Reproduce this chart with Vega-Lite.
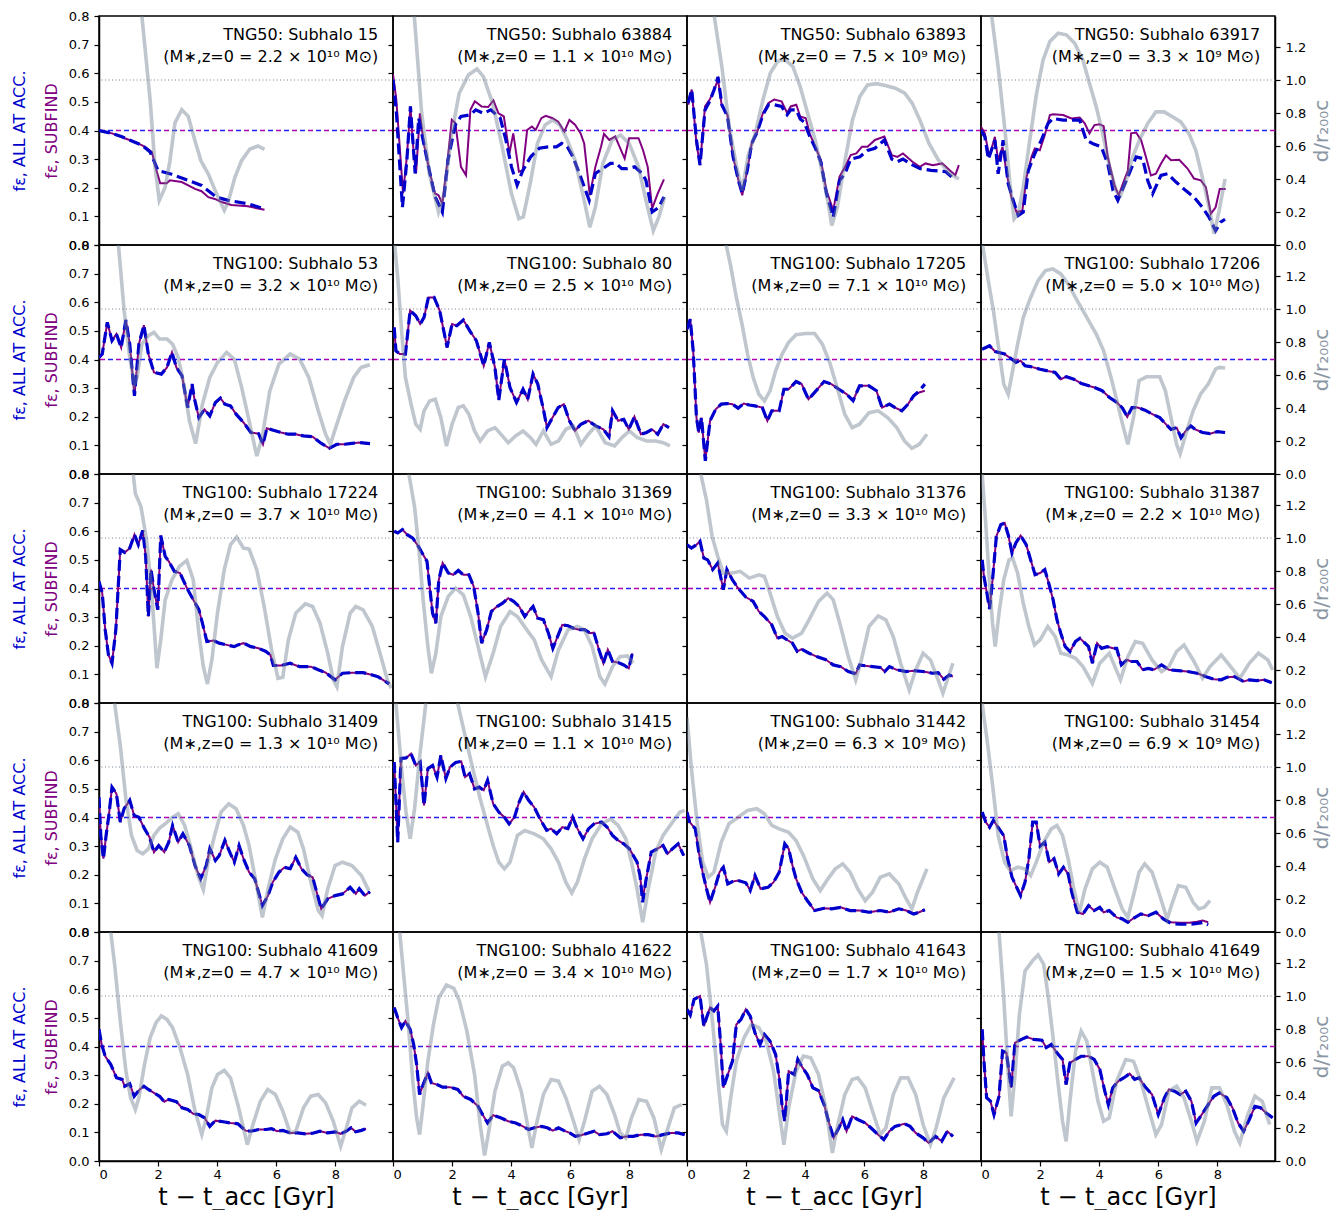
{
"$schema": "https://vega.github.io/schema/vega-lite/v6.json",
"padding": {"left": 10, "top": 9, "right": 5, "bottom": 0},
"datasets": {
"panels": [
{"p":0,"l1":"TNG50: Subhalo 15","l2":"(M∗,z=0 = 2.2 × 10¹⁰ M⊙)"},
{"p":1,"l1":"TNG50: Subhalo 63884","l2":"(M∗,z=0 = 1.1 × 10¹⁰ M⊙)"},
{"p":2,"l1":"TNG50: Subhalo 63893","l2":"(M∗,z=0 = 7.5 × 10⁹ M⊙)"},
{"p":3,"l1":"TNG50: Subhalo 63917","l2":"(M∗,z=0 = 3.3 × 10⁹ M⊙)"},
{"p":4,"l1":"TNG100: Subhalo 53","l2":"(M∗,z=0 = 3.2 × 10¹⁰ M⊙)"},
{"p":5,"l1":"TNG100: Subhalo 80","l2":"(M∗,z=0 = 2.5 × 10¹⁰ M⊙)"},
{"p":6,"l1":"TNG100: Subhalo 17205","l2":"(M∗,z=0 = 7.1 × 10¹⁰ M⊙)"},
{"p":7,"l1":"TNG100: Subhalo 17206","l2":"(M∗,z=0 = 5.0 × 10¹⁰ M⊙)"},
{"p":8,"l1":"TNG100: Subhalo 17224","l2":"(M∗,z=0 = 3.7 × 10¹⁰ M⊙)"},
{"p":9,"l1":"TNG100: Subhalo 31369","l2":"(M∗,z=0 = 4.1 × 10¹⁰ M⊙)"},
{"p":10,"l1":"TNG100: Subhalo 31376","l2":"(M∗,z=0 = 3.3 × 10¹⁰ M⊙)"},
{"p":11,"l1":"TNG100: Subhalo 31387","l2":"(M∗,z=0 = 2.2 × 10¹⁰ M⊙)"},
{"p":12,"l1":"TNG100: Subhalo 31409","l2":"(M∗,z=0 = 1.3 × 10¹⁰ M⊙)"},
{"p":13,"l1":"TNG100: Subhalo 31415","l2":"(M∗,z=0 = 1.1 × 10¹⁰ M⊙)"},
{"p":14,"l1":"TNG100: Subhalo 31442","l2":"(M∗,z=0 = 6.3 × 10⁹ M⊙)"},
{"p":15,"l1":"TNG100: Subhalo 31454","l2":"(M∗,z=0 = 6.9 × 10⁹ M⊙)"},
{"p":16,"l1":"TNG100: Subhalo 41609","l2":"(M∗,z=0 = 4.7 × 10¹⁰ M⊙)"},
{"p":17,"l1":"TNG100: Subhalo 41622","l2":"(M∗,z=0 = 3.4 × 10¹⁰ M⊙)"},
{"p":18,"l1":"TNG100: Subhalo 41643","l2":"(M∗,z=0 = 1.7 × 10¹⁰ M⊙)"},
{"p":19,"l1":"TNG100: Subhalo 41649","l2":"(M∗,z=0 = 1.5 × 10¹⁰ M⊙)"}
],
"d": [
{"p":0,"t":0,"m":0.4},{"p":0,"t":0.44,"m":0.39},{"p":0,"t":0.89,"m":0.372},{"p":0,"t":1.22,"m":0.36},{"p":0,"t":1.56,"m":0.343},{"p":0,"t":1.79,"m":0.325},{"p":0,"t":1.92,"m":0.27},{"p":0,"t":2.07,"m":0.216},{"p":0,"t":2.29,"m":0.216},{"p":0,"t":2.4,"m":0.226},{"p":0,"t":2.8,"m":0.22},{"p":0,"t":3.25,"m":0.196},{"p":0,"t":3.47,"m":0.188},{"p":0,"t":3.7,"m":0.167},{"p":0,"t":3.92,"m":0.161},{"p":0,"t":4.15,"m":0.15},{"p":0,"t":4.48,"m":0.14},{"p":0,"t":5.04,"m":0.135},{"p":0,"t":5.6,"m":0.123},
{"p":0,"t":0,"b":0.4},{"p":0,"t":0.44,"b":0.39},{"p":0,"t":0.78,"b":0.378},{"p":0,"t":1.45,"b":0.349},{"p":0,"t":1.73,"b":0.325},{"p":0,"t":2.0,"b":0.26},{"p":0,"t":2.46,"b":0.247},{"p":0,"t":3.02,"b":0.226},{"p":0,"t":3.47,"b":0.208},{"p":0,"t":3.98,"b":0.167},{"p":0,"t":4.37,"b":0.156},{"p":0,"t":5.04,"b":0.144},{"p":0,"t":5.6,"b":0.126},
{"p":0,"t":0,"g":4.0},{"p":0,"t":1.45,"g":1.39},{"p":0,"t":1.73,"g":0.88},{"p":0,"t":1.9,"g":0.47},{"p":0,"t":2.04,"g":0.27},{"p":0,"t":2.24,"g":0.35},{"p":0,"t":2.4,"g":0.51},{"p":0,"t":2.57,"g":0.74},{"p":0,"t":2.8,"g":0.82},{"p":0,"t":3.02,"g":0.78},{"p":0,"t":3.25,"g":0.63},{"p":0,"t":3.45,"g":0.51},{"p":0,"t":3.7,"g":0.43},{"p":0,"t":3.98,"g":0.31},{"p":0,"t":4.24,"g":0.21},{"p":0,"t":4.37,"g":0.26},{"p":0,"t":4.6,"g":0.41},{"p":0,"t":4.82,"g":0.51},{"p":0,"t":5.1,"g":0.58},{"p":0,"t":5.38,"g":0.6},{"p":0,"t":5.6,"g":0.58},
{"p":1,"t":0,"m":0.596},{"p":1,"t":0.11,"m":0.51},{"p":1,"t":0.21,"m":0.367},{"p":1,"t":0.34,"m":0.18},{"p":1,"t":0.47,"m":0.31},{"p":1,"t":0.59,"m":0.484},{"p":1,"t":0.7,"m":0.32},{"p":1,"t":0.78,"m":0.25},{"p":1,"t":0.91,"m":0.46},{"p":1,"t":1.04,"m":0.355},{"p":1,"t":1.23,"m":0.26},{"p":1,"t":1.42,"m":0.18},{"p":1,"t":1.54,"m":0.174},{"p":1,"t":1.67,"m":0.144},{"p":1,"t":1.86,"m":0.308},{"p":1,"t":1.99,"m":0.437},{"p":1,"t":2.11,"m":0.426},{"p":1,"t":2.3,"m":0.273},{"p":1,"t":2.47,"m":0.244},{"p":1,"t":2.62,"m":0.472},{"p":1,"t":2.77,"m":0.502},{"p":1,"t":3.0,"m":0.484},{"p":1,"t":3.22,"m":0.482},{"p":1,"t":3.4,"m":0.505},{"p":1,"t":3.57,"m":0.46},{"p":1,"t":3.75,"m":0.449},{"p":1,"t":3.94,"m":0.32},{"p":1,"t":4.07,"m":0.39},{"p":1,"t":4.26,"m":0.256},{"p":1,"t":4.39,"m":0.26},{"p":1,"t":4.54,"m":0.402},{"p":1,"t":4.7,"m":0.414},{"p":1,"t":4.83,"m":0.402},{"p":1,"t":5.02,"m":0.443},{"p":1,"t":5.17,"m":0.451},{"p":1,"t":5.4,"m":0.443},{"p":1,"t":5.59,"m":0.431},{"p":1,"t":5.8,"m":0.396},{"p":1,"t":5.97,"m":0.437},{"p":1,"t":6.16,"m":0.42},{"p":1,"t":6.35,"m":0.39},{"p":1,"t":6.47,"m":0.355},{"p":1,"t":6.66,"m":0.174},{"p":1,"t":6.85,"m":0.273},{"p":1,"t":7.04,"m":0.343},{"p":1,"t":7.14,"m":0.388},{"p":1,"t":7.32,"m":0.367},{"p":1,"t":7.52,"m":0.379},{"p":1,"t":7.67,"m":0.343},{"p":1,"t":7.84,"m":0.302},{"p":1,"t":7.99,"m":0.373},{"p":1,"t":8.31,"m":0.373},{"p":1,"t":8.46,"m":0.332},{"p":1,"t":8.62,"m":0.273},{"p":1,"t":8.77,"m":0.127},{"p":1,"t":8.96,"m":0.18},{"p":1,"t":9.17,"m":0.229},
{"p":1,"t":0,"b":0.578},{"p":1,"t":0.11,"b":0.47},{"p":1,"t":0.32,"b":0.132},{"p":1,"t":0.47,"b":0.297},{"p":1,"t":0.59,"b":0.484},{"p":1,"t":0.75,"b":0.25},{"p":1,"t":0.87,"b":0.443},{"p":1,"t":1.04,"b":0.355},{"p":1,"t":1.23,"b":0.26},{"p":1,"t":1.42,"b":0.17},{"p":1,"t":1.67,"b":0.115},{"p":1,"t":1.86,"b":0.297},{"p":1,"t":2.11,"b":0.42},{"p":1,"t":2.3,"b":0.449},{"p":1,"t":2.62,"b":0.455},{"p":1,"t":2.8,"b":0.472},{"p":1,"t":3.06,"b":0.46},{"p":1,"t":3.31,"b":0.472},{"p":1,"t":3.63,"b":0.443},{"p":1,"t":3.82,"b":0.367},{"p":1,"t":4.01,"b":0.273},{"p":1,"t":4.2,"b":0.209},{"p":1,"t":4.39,"b":0.26},{"p":1,"t":4.66,"b":0.308},{"p":1,"t":4.95,"b":0.338},{"p":1,"t":5.25,"b":0.343},{"p":1,"t":5.53,"b":0.343},{"p":1,"t":5.71,"b":0.355},{"p":1,"t":5.9,"b":0.343},{"p":1,"t":6.09,"b":0.308},{"p":1,"t":6.35,"b":0.238},{"p":1,"t":6.64,"b":0.156},{"p":1,"t":6.85,"b":0.25},{"p":1,"t":7.1,"b":0.267},{"p":1,"t":7.36,"b":0.285},{"p":1,"t":7.55,"b":0.285},{"p":1,"t":7.74,"b":0.267},{"p":1,"t":7.93,"b":0.267},{"p":1,"t":8.18,"b":0.273},{"p":1,"t":8.43,"b":0.25},{"p":1,"t":8.56,"b":0.226},{"p":1,"t":8.77,"b":0.115},{"p":1,"t":9.0,"b":0.132},{"p":1,"t":9.17,"b":0.168},
{"p":1,"t":0,"g":3.1},{"p":1,"t":0.72,"g":1.39},{"p":1,"t":0.97,"g":0.8},{"p":1,"t":1.23,"g":0.433},{"p":1,"t":1.54,"g":0.2},{"p":1,"t":1.73,"g":0.31},{"p":1,"t":1.99,"g":0.68},{"p":1,"t":2.24,"g":0.92},{"p":1,"t":2.55,"g":1.03},{"p":1,"t":2.84,"g":1.067},{"p":1,"t":3.06,"g":1.02},{"p":1,"t":3.37,"g":0.86},{"p":1,"t":3.69,"g":0.6},{"p":1,"t":4.01,"g":0.31},{"p":1,"t":4.26,"g":0.16},{"p":1,"t":4.41,"g":0.17},{"p":1,"t":4.64,"g":0.37},{"p":1,"t":4.89,"g":0.616},{"p":1,"t":5.15,"g":0.728},{"p":1,"t":5.4,"g":0.758},{"p":1,"t":5.65,"g":0.728},{"p":1,"t":5.9,"g":0.636},{"p":1,"t":6.16,"g":0.514},{"p":1,"t":6.47,"g":0.27},{"p":1,"t":6.66,"g":0.108},{"p":1,"t":6.85,"g":0.23},{"p":1,"t":7.1,"g":0.494},{"p":1,"t":7.42,"g":0.636},{"p":1,"t":7.7,"g":0.667},{"p":1,"t":7.99,"g":0.616},{"p":1,"t":8.31,"g":0.474},{"p":1,"t":8.56,"g":0.27},{"p":1,"t":8.81,"g":0.087},{"p":1,"t":9.0,"g":0.17},{"p":1,"t":9.19,"g":0.29},
{"p":2,"t":0.04,"m":0.49},{"p":2,"t":0.16,"m":0.543},{"p":2,"t":0.32,"m":0.355},{"p":2,"t":0.44,"m":0.279},{"p":2,"t":0.61,"m":0.484},{"p":2,"t":0.77,"m":0.508},{"p":2,"t":0.92,"m":0.543},{"p":2,"t":1.05,"m":0.578},{"p":2,"t":1.18,"m":0.484},{"p":2,"t":1.37,"m":0.455},{"p":2,"t":1.56,"m":0.308},{"p":2,"t":1.74,"m":0.226},{"p":2,"t":1.87,"m":0.174},{"p":2,"t":2.04,"m":0.261},{"p":2,"t":2.19,"m":0.355},{"p":2,"t":2.38,"m":0.396},{"p":2,"t":2.57,"m":0.461},{"p":2,"t":2.76,"m":0.496},{"p":2,"t":2.95,"m":0.508},{"p":2,"t":3.2,"m":0.502},{"p":2,"t":3.39,"m":0.461},{"p":2,"t":3.51,"m":0.484},{"p":2,"t":3.7,"m":0.49},{"p":2,"t":3.83,"m":0.449},{"p":2,"t":4.02,"m":0.443},{"p":2,"t":4.15,"m":0.39},{"p":2,"t":4.34,"m":0.343},{"p":2,"t":4.53,"m":0.297},{"p":2,"t":4.72,"m":0.19},{"p":2,"t":4.95,"m":0.121},{"p":2,"t":5.16,"m":0.238},{"p":2,"t":5.35,"m":0.273},{"p":2,"t":5.54,"m":0.314},{"p":2,"t":5.73,"m":0.32},{"p":2,"t":5.92,"m":0.343},{"p":2,"t":6.11,"m":0.343},{"p":2,"t":6.36,"m":0.367},{"p":2,"t":6.68,"m":0.379},{"p":2,"t":6.93,"m":0.314},{"p":2,"t":7.12,"m":0.308},{"p":2,"t":7.31,"m":0.32},{"p":2,"t":7.63,"m":0.291},{"p":2,"t":7.88,"m":0.273},{"p":2,"t":8.07,"m":0.285},{"p":2,"t":8.32,"m":0.279},{"p":2,"t":8.64,"m":0.285},{"p":2,"t":8.89,"m":0.261},{"p":2,"t":9.08,"m":0.244},{"p":2,"t":9.2,"m":0.279},
{"p":2,"t":0.04,"b":0.496},{"p":2,"t":0.16,"b":0.543},{"p":2,"t":0.32,"b":0.367},{"p":2,"t":0.44,"b":0.279},{"p":2,"t":0.61,"b":0.472},{"p":2,"t":0.77,"b":0.502},{"p":2,"t":0.92,"b":0.543},{"p":2,"t":1.05,"b":0.587},{"p":2,"t":1.18,"b":0.49},{"p":2,"t":1.37,"b":0.449},{"p":2,"t":1.56,"b":0.308},{"p":2,"t":1.74,"b":0.226},{"p":2,"t":1.87,"b":0.18},{"p":2,"t":2.04,"b":0.261},{"p":2,"t":2.19,"b":0.355},{"p":2,"t":2.38,"b":0.396},{"p":2,"t":2.57,"b":0.455},{"p":2,"t":2.76,"b":0.49},{"p":2,"t":2.95,"b":0.49},{"p":2,"t":3.2,"b":0.484},{"p":2,"t":3.39,"b":0.455},{"p":2,"t":3.51,"b":0.472},{"p":2,"t":3.7,"b":0.472},{"p":2,"t":3.83,"b":0.44},{"p":2,"t":3.96,"b":0.43},{"p":2,"t":4.15,"b":0.38},{"p":2,"t":4.34,"b":0.34},{"p":2,"t":4.53,"b":0.29},{"p":2,"t":4.72,"b":0.18},{"p":2,"t":4.95,"b":0.097},{"p":2,"t":5.16,"b":0.225},{"p":2,"t":5.35,"b":0.25},{"p":2,"t":5.54,"b":0.3},{"p":2,"t":5.85,"b":0.308},{"p":2,"t":6.11,"b":0.33},{"p":2,"t":6.36,"b":0.338},{"p":2,"t":6.68,"b":0.367},{"p":2,"t":6.93,"b":0.3},{"p":2,"t":7.12,"b":0.291},{"p":2,"t":7.31,"b":0.3},{"p":2,"t":7.63,"b":0.28},{"p":2,"t":7.88,"b":0.267},{"p":2,"t":8.26,"b":0.261},{"p":2,"t":8.76,"b":0.256},{"p":2,"t":9.08,"b":0.226},
{"p":2,"t":0,"g":2.5},{"p":2,"t":0.92,"g":1.39},{"p":2,"t":1.18,"g":1.08},{"p":2,"t":1.43,"g":0.717},{"p":2,"t":1.68,"g":0.474},{"p":2,"t":1.87,"g":0.33},{"p":2,"t":2.06,"g":0.535},{"p":2,"t":2.31,"g":0.677},{"p":2,"t":2.57,"g":0.88},{"p":2,"t":2.82,"g":1.043},{"p":2,"t":3.07,"g":1.114},{"p":2,"t":3.32,"g":1.124},{"p":2,"t":3.58,"g":1.083},{"p":2,"t":3.83,"g":0.961},{"p":2,"t":4.08,"g":0.8},{"p":2,"t":4.34,"g":0.636},{"p":2,"t":4.59,"g":0.433},{"p":2,"t":4.78,"g":0.25},{"p":2,"t":4.9,"g":0.118},{"p":2,"t":5.09,"g":0.23},{"p":2,"t":5.35,"g":0.514},{"p":2,"t":5.6,"g":0.758},{"p":2,"t":5.85,"g":0.9},{"p":2,"t":6.11,"g":0.97},{"p":2,"t":6.42,"g":0.978},{"p":2,"t":6.74,"g":0.965},{"p":2,"t":7.05,"g":0.95},{"p":2,"t":7.37,"g":0.92},{"p":2,"t":7.62,"g":0.86},{"p":2,"t":7.88,"g":0.758},{"p":2,"t":8.19,"g":0.616},{"p":2,"t":8.51,"g":0.514},{"p":2,"t":8.89,"g":0.433},{"p":2,"t":9.2,"g":0.4},
{"p":3,"t":0,"m":0.413},{"p":3,"t":0.13,"m":0.39},{"p":3,"t":0.28,"m":0.308},{"p":3,"t":0.47,"m":0.378},{"p":3,"t":0.58,"m":0.296},{"p":3,"t":0.73,"m":0.343},{"p":3,"t":0.87,"m":0.25},{"p":3,"t":1.03,"m":0.167},{"p":3,"t":1.2,"m":0.115},{"p":3,"t":1.4,"m":0.12},{"p":3,"t":1.54,"m":0.237},{"p":3,"t":1.71,"m":0.308},{"p":3,"t":1.82,"m":0.337},{"p":3,"t":1.99,"m":0.331},{"p":3,"t":2.16,"m":0.384},{"p":3,"t":2.33,"m":0.454},{"p":3,"t":2.44,"m":0.457},{"p":3,"t":2.78,"m":0.454},{"p":3,"t":3.06,"m":0.442},{"p":3,"t":3.34,"m":0.445},{"p":3,"t":3.51,"m":0.425},{"p":3,"t":3.67,"m":0.39},{"p":3,"t":3.84,"m":0.419},{"p":3,"t":4.01,"m":0.422},{"p":3,"t":4.15,"m":0.415},{"p":3,"t":4.29,"m":0.308},{"p":3,"t":4.52,"m":0.208},{"p":3,"t":4.66,"m":0.173},{"p":3,"t":4.8,"m":0.214},{"p":3,"t":4.97,"m":0.26},{"p":3,"t":5.08,"m":0.39},{"p":3,"t":5.25,"m":0.393},{"p":3,"t":5.42,"m":0.366},{"p":3,"t":5.58,"m":0.308},{"p":3,"t":5.75,"m":0.243},{"p":3,"t":5.92,"m":0.249},{"p":3,"t":6.09,"m":0.284},{"p":3,"t":6.26,"m":0.313},{"p":3,"t":6.43,"m":0.296},{"p":3,"t":6.71,"m":0.298},{"p":3,"t":6.99,"m":0.267},{"p":3,"t":7.21,"m":0.232},{"p":3,"t":7.44,"m":0.226},{"p":3,"t":7.61,"m":0.202},{"p":3,"t":7.78,"m":0.109},{"p":3,"t":7.94,"m":0.132},{"p":3,"t":8.08,"m":0.196},{"p":3,"t":8.28,"m":0.196},
{"p":3,"t":0,"b":0.401},{"p":3,"t":0.13,"b":0.378},{"p":3,"t":0.25,"b":0.3},{"p":3,"t":0.47,"b":0.366},{"p":3,"t":0.58,"b":0.249},{"p":3,"t":0.75,"b":0.366},{"p":3,"t":0.92,"b":0.214},{"p":3,"t":1.09,"b":0.156},{"p":3,"t":1.26,"b":0.103},{"p":3,"t":1.43,"b":0.115},{"p":3,"t":1.6,"b":0.26},{"p":3,"t":1.82,"b":0.319},{"p":3,"t":2.04,"b":0.366},{"p":3,"t":2.27,"b":0.425},{"p":3,"t":2.44,"b":0.442},{"p":3,"t":2.78,"b":0.436},{"p":3,"t":3.11,"b":0.436},{"p":3,"t":3.34,"b":0.436},{"p":3,"t":3.56,"b":0.366},{"p":3,"t":3.79,"b":0.354},{"p":3,"t":4.07,"b":0.343},{"p":3,"t":4.29,"b":0.284},{"p":3,"t":4.47,"b":0.19},{"p":3,"t":4.63,"b":0.156},{"p":3,"t":4.92,"b":0.226},{"p":3,"t":5.25,"b":0.308},{"p":3,"t":5.47,"b":0.302},{"p":3,"t":5.64,"b":0.226},{"p":3,"t":5.81,"b":0.179},{"p":3,"t":6.09,"b":0.243},{"p":3,"t":6.32,"b":0.249},{"p":3,"t":6.6,"b":0.22},{"p":3,"t":6.93,"b":0.19},{"p":3,"t":7.21,"b":0.167},{"p":3,"t":7.49,"b":0.132},{"p":3,"t":7.72,"b":0.097},{"p":3,"t":7.94,"b":0.05},{"p":3,"t":8.11,"b":0.08},{"p":3,"t":8.26,"b":0.09},
{"p":3,"t":0,"g":1.9},{"p":3,"t":0.36,"g":1.39},{"p":3,"t":0.58,"g":1.08},{"p":3,"t":0.81,"g":0.696},{"p":3,"t":0.98,"g":0.371},{"p":3,"t":1.12,"g":0.158},{"p":3,"t":1.26,"g":0.19},{"p":3,"t":1.43,"g":0.35},{"p":3,"t":1.65,"g":0.635},{"p":3,"t":1.88,"g":0.919},{"p":3,"t":2.1,"g":1.12},{"p":3,"t":2.33,"g":1.233},{"p":3,"t":2.61,"g":1.284},{"p":3,"t":2.89,"g":1.274},{"p":3,"t":3.17,"g":1.223},{"p":3,"t":3.45,"g":1.12},{"p":3,"t":3.67,"g":0.98},{"p":3,"t":3.9,"g":0.838},{"p":3,"t":4.12,"g":0.675},{"p":3,"t":4.35,"g":0.473},{"p":3,"t":4.57,"g":0.33},{"p":3,"t":4.72,"g":0.3},{"p":3,"t":4.91,"g":0.39},{"p":3,"t":5.13,"g":0.533},{"p":3,"t":5.36,"g":0.635},{"p":3,"t":5.64,"g":0.736},{"p":3,"t":5.92,"g":0.807},{"p":3,"t":6.2,"g":0.807},{"p":3,"t":6.48,"g":0.777},{"p":3,"t":6.76,"g":0.746},{"p":3,"t":7.04,"g":0.675},{"p":3,"t":7.27,"g":0.574},{"p":3,"t":7.49,"g":0.412},{"p":3,"t":7.72,"g":0.229},{"p":3,"t":7.89,"g":0.067},{"p":3,"t":8.06,"g":0.209},{"p":3,"t":8.26,"g":0.4},
{"p":4,"t":0,"m":0.407,"b":0.407},{"p":4,"t":0.11,"m":0.419,"b":0.419},{"p":4,"t":0.28,"m":0.53,"b":0.53},{"p":4,"t":0.44,"m":0.466,"b":0.466},{"p":4,"t":0.59,"m":0.489,"b":0.489},{"p":4,"t":0.75,"m":0.442,"b":0.442},{"p":4,"t":0.91,"m":0.538,"b":0.538},{"p":4,"t":1.04,"m":0.454,"b":0.454},{"p":4,"t":1.2,"m":0.273,"b":0.273},{"p":4,"t":1.35,"m":0.454,"b":0.454},{"p":4,"t":1.52,"m":0.52,"b":0.52},{"p":4,"t":1.67,"m":0.419,"b":0.419},{"p":4,"t":1.86,"m":0.355,"b":0.355},{"p":4,"t":2.11,"m":0.349,"b":0.349},{"p":4,"t":2.3,"m":0.372,"b":0.372},{"p":4,"t":2.47,"m":0.425,"b":0.425},{"p":4,"t":2.62,"m":0.372,"b":0.372},{"p":4,"t":2.81,"m":0.343,"b":0.343},{"p":4,"t":3.0,"m":0.232,"b":0.232},{"p":4,"t":3.15,"m":0.314,"b":0.314},{"p":4,"t":3.22,"m":0.267,"b":0.267},{"p":4,"t":3.38,"m":0.197,"b":0.197},{"p":4,"t":3.57,"m":0.226,"b":0.226},{"p":4,"t":3.75,"m":0.203,"b":0.203},{"p":4,"t":3.94,"m":0.25,"b":0.25},{"p":4,"t":4.11,"m":0.265,"b":0.265},{"p":4,"t":4.26,"m":0.244,"b":0.244},{"p":4,"t":4.45,"m":0.238,"b":0.238},{"p":4,"t":4.64,"m":0.209,"b":0.209},{"p":4,"t":4.89,"m":0.18,"b":0.18},{"p":4,"t":5.14,"m":0.145,"b":0.145},{"p":4,"t":5.4,"m":0.141,"b":0.141},{"p":4,"t":5.55,"m":0.104,"b":0.104},{"p":4,"t":5.68,"m":0.16,"b":0.16},{"p":4,"t":5.9,"m":0.153,"b":0.153},{"p":4,"t":6.16,"m":0.145,"b":0.145},{"p":4,"t":6.41,"m":0.139,"b":0.139},{"p":4,"t":6.66,"m":0.139,"b":0.139},{"p":4,"t":6.92,"m":0.133,"b":0.133},{"p":4,"t":7.23,"m":0.13,"b":0.13},{"p":4,"t":7.48,"m":0.11,"b":0.11},{"p":4,"t":7.8,"m":0.09,"b":0.09},{"p":4,"t":8.05,"m":0.104,"b":0.104},{"p":4,"t":8.31,"m":0.104,"b":0.104},{"p":4,"t":8.56,"m":0.107,"b":0.107},{"p":4,"t":8.81,"m":0.11,"b":0.11},{"p":4,"t":9.17,"m":0.106,"b":0.106},
{"p":4,"t":0,"g":2.8},{"p":4,"t":0.66,"g":1.385},{"p":4,"t":0.85,"g":0.99},{"p":4,"t":1.04,"g":0.706},{"p":4,"t":1.2,"g":0.545},{"p":4,"t":1.29,"g":0.585},{"p":4,"t":1.45,"g":0.787},{"p":4,"t":1.67,"g":0.838},{"p":4,"t":1.86,"g":0.858},{"p":4,"t":2.05,"g":0.818},{"p":4,"t":2.3,"g":0.818},{"p":4,"t":2.49,"g":0.787},{"p":4,"t":2.68,"g":0.706},{"p":4,"t":2.87,"g":0.545},{"p":4,"t":3.06,"g":0.322},{"p":4,"t":3.27,"g":0.184},{"p":4,"t":3.5,"g":0.423},{"p":4,"t":3.75,"g":0.585},{"p":4,"t":4.01,"g":0.676},{"p":4,"t":4.32,"g":0.737},{"p":4,"t":4.58,"g":0.696},{"p":4,"t":4.83,"g":0.524},{"p":4,"t":5.08,"g":0.322},{"p":4,"t":5.34,"g":0.109},{"p":4,"t":5.52,"g":0.22},{"p":4,"t":5.78,"g":0.504},{"p":4,"t":6.09,"g":0.666},{"p":4,"t":6.47,"g":0.727},{"p":4,"t":6.79,"g":0.696},{"p":4,"t":7.1,"g":0.585},{"p":4,"t":7.42,"g":0.383},{"p":4,"t":7.67,"g":0.241},{"p":4,"t":7.83,"g":0.18},{"p":4,"t":8.05,"g":0.302},{"p":4,"t":8.31,"g":0.443},{"p":4,"t":8.62,"g":0.585},{"p":4,"t":8.87,"g":0.646},{"p":4,"t":9.17,"g":0.662},
{"p":5,"t":0.04,"m":0.512,"b":0.512},{"p":5,"t":0.1,"m":0.43,"b":0.43},{"p":5,"t":0.23,"m":0.419,"b":0.419},{"p":5,"t":0.42,"m":0.419,"b":0.419},{"p":5,"t":0.58,"m":0.571,"b":0.571},{"p":5,"t":0.77,"m":0.553,"b":0.553},{"p":5,"t":0.92,"m":0.524,"b":0.524},{"p":5,"t":1.05,"m":0.547,"b":0.547},{"p":5,"t":1.2,"m":0.617,"b":0.617},{"p":5,"t":1.39,"m":0.617,"b":0.617},{"p":5,"t":1.58,"m":0.571,"b":0.571},{"p":5,"t":1.83,"m":0.442,"b":0.442},{"p":5,"t":2.0,"m":0.524,"b":0.524},{"p":5,"t":2.16,"m":0.518,"b":0.518},{"p":5,"t":2.38,"m":0.538,"b":0.538},{"p":5,"t":2.63,"m":0.495,"b":0.495},{"p":5,"t":2.82,"m":0.466,"b":0.466},{"p":5,"t":3.07,"m":0.378,"b":0.378},{"p":5,"t":3.26,"m":0.46,"b":0.46},{"p":5,"t":3.45,"m":0.372,"b":0.372},{"p":5,"t":3.58,"m":0.258,"b":0.258},{"p":5,"t":3.77,"m":0.401,"b":0.401},{"p":5,"t":3.96,"m":0.302,"b":0.302},{"p":5,"t":4.18,"m":0.25,"b":0.25},{"p":5,"t":4.4,"m":0.296,"b":0.296},{"p":5,"t":4.56,"m":0.261,"b":0.261},{"p":5,"t":4.74,"m":0.349,"b":0.349},{"p":5,"t":4.9,"m":0.314,"b":0.314},{"p":5,"t":5.09,"m":0.226,"b":0.226},{"p":5,"t":5.21,"m":0.162,"b":0.162},{"p":5,"t":5.4,"m":0.197,"b":0.197},{"p":5,"t":5.59,"m":0.232,"b":0.232},{"p":5,"t":5.78,"m":0.244,"b":0.244},{"p":5,"t":5.97,"m":0.186,"b":0.186},{"p":5,"t":6.16,"m":0.151,"b":0.151},{"p":5,"t":6.36,"m":0.174,"b":0.174},{"p":5,"t":6.61,"m":0.186,"b":0.186},{"p":5,"t":6.86,"m":0.168,"b":0.168},{"p":5,"t":7.12,"m":0.156,"b":0.156},{"p":5,"t":7.31,"m":0.13,"b":0.13},{"p":5,"t":7.43,"m":0.221,"b":0.221},{"p":5,"t":7.62,"m":0.186,"b":0.186},{"p":5,"t":7.81,"m":0.191,"b":0.191},{"p":5,"t":7.98,"m":0.156,"b":0.156},{"p":5,"t":8.17,"m":0.2,"b":0.2},{"p":5,"t":8.39,"m":0.139,"b":0.139},{"p":5,"t":8.58,"m":0.145,"b":0.145},{"p":5,"t":8.77,"m":0.156,"b":0.156},{"p":5,"t":8.96,"m":0.139,"b":0.139},{"p":5,"t":9.15,"m":0.174,"b":0.174},{"p":5,"t":9.34,"m":0.162,"b":0.162},
{"p":5,"t":0,"g":1.5},{"p":5,"t":0.16,"g":1.19},{"p":5,"t":0.29,"g":0.87},{"p":5,"t":0.42,"g":0.585},{"p":5,"t":0.61,"g":0.423},{"p":5,"t":0.77,"g":0.302},{"p":5,"t":0.92,"g":0.271},{"p":5,"t":1.05,"g":0.383},{"p":5,"t":1.24,"g":0.443},{"p":5,"t":1.43,"g":0.453},{"p":5,"t":1.62,"g":0.342},{"p":5,"t":1.81,"g":0.17},{"p":5,"t":2.0,"g":0.302},{"p":5,"t":2.21,"g":0.403},{"p":5,"t":2.38,"g":0.413},{"p":5,"t":2.57,"g":0.362},{"p":5,"t":2.76,"g":0.261},{"p":5,"t":2.95,"g":0.2},{"p":5,"t":3.2,"g":0.261},{"p":5,"t":3.45,"g":0.281},{"p":5,"t":3.7,"g":0.231},{"p":5,"t":3.9,"g":0.19},{"p":5,"t":4.15,"g":0.231},{"p":5,"t":4.4,"g":0.261},{"p":5,"t":4.65,"g":0.221},{"p":5,"t":4.84,"g":0.18},{"p":5,"t":5.09,"g":0.261},{"p":5,"t":5.35,"g":0.18},{"p":5,"t":5.6,"g":0.2},{"p":5,"t":5.85,"g":0.271},{"p":5,"t":6.1,"g":0.291},{"p":5,"t":6.36,"g":0.18},{"p":5,"t":6.61,"g":0.241},{"p":5,"t":6.86,"g":0.291},{"p":5,"t":7.18,"g":0.19},{"p":5,"t":7.5,"g":0.17},{"p":5,"t":7.75,"g":0.221},{"p":5,"t":8.0,"g":0.261},{"p":5,"t":8.26,"g":0.221},{"p":5,"t":8.58,"g":0.2},{"p":5,"t":8.89,"g":0.2},{"p":5,"t":9.15,"g":0.19},{"p":5,"t":9.37,"g":0.17},
{"p":6,"t":0,"m":0.506,"b":0.506},{"p":6,"t":0.11,"m":0.541,"b":0.541},{"p":6,"t":0.21,"m":0.43,"b":0.43},{"p":6,"t":0.32,"m":0.197,"b":0.197},{"p":6,"t":0.4,"m":0.145,"b":0.145},{"p":6,"t":0.49,"m":0.197,"b":0.197},{"p":6,"t":0.62,"m":0.046,"b":0.046},{"p":6,"t":0.78,"m":0.186,"b":0.186},{"p":6,"t":0.97,"m":0.226,"b":0.226},{"p":6,"t":1.16,"m":0.244,"b":0.244},{"p":6,"t":1.35,"m":0.246,"b":0.246},{"p":6,"t":1.54,"m":0.244,"b":0.244},{"p":6,"t":1.73,"m":0.23,"b":0.23},{"p":6,"t":1.92,"m":0.246,"b":0.246},{"p":6,"t":2.11,"m":0.241,"b":0.241},{"p":6,"t":2.3,"m":0.238,"b":0.238},{"p":6,"t":2.55,"m":0.232,"b":0.232},{"p":6,"t":2.72,"m":0.186,"b":0.186},{"p":6,"t":2.87,"m":0.221,"b":0.221},{"p":6,"t":3.12,"m":0.221,"b":0.221},{"p":6,"t":3.28,"m":0.296,"b":0.296},{"p":6,"t":3.44,"m":0.296,"b":0.296},{"p":6,"t":3.69,"m":0.323,"b":0.323},{"p":6,"t":3.88,"m":0.314,"b":0.314},{"p":6,"t":4.11,"m":0.261,"b":0.261},{"p":6,"t":4.32,"m":0.285,"b":0.285},{"p":6,"t":4.64,"m":0.323,"b":0.323},{"p":6,"t":4.89,"m":0.314,"b":0.314},{"p":6,"t":5.14,"m":0.296,"b":0.296},{"p":6,"t":5.4,"m":0.279,"b":0.279},{"p":6,"t":5.62,"m":0.256,"b":0.256},{"p":6,"t":5.84,"m":0.308,"b":0.308},{"p":6,"t":6.16,"m":0.308,"b":0.308},{"p":6,"t":6.41,"m":0.291,"b":0.291},{"p":6,"t":6.6,"m":0.232,"b":0.232},{"p":6,"t":6.85,"m":0.244,"b":0.244},{"p":6,"t":7.04,"m":0.232,"b":0.232},{"p":6,"t":7.27,"m":0.221,"b":0.221},{"p":6,"t":7.48,"m":0.244,"b":0.244},{"p":6,"t":7.67,"m":0.273,"b":0.273},{"p":6,"t":7.86,"m":0.285,"b":0.29},{"p":6,"t":8.05,"m":0.291,"b":0.314},
{"p":6,"t":0,"g":2.6},{"p":6,"t":1.33,"g":1.385},{"p":6,"t":1.48,"g":1.26},{"p":6,"t":1.67,"g":1.07},{"p":6,"t":1.86,"g":0.91},{"p":6,"t":2.05,"g":0.727},{"p":6,"t":2.24,"g":0.585},{"p":6,"t":2.43,"g":0.484},{"p":6,"t":2.62,"g":0.443},{"p":6,"t":2.81,"g":0.504},{"p":6,"t":3.0,"g":0.625},{"p":6,"t":3.22,"g":0.727},{"p":6,"t":3.44,"g":0.798},{"p":6,"t":3.69,"g":0.844},{"p":6,"t":4.01,"g":0.852},{"p":6,"t":4.32,"g":0.852},{"p":6,"t":4.58,"g":0.787},{"p":6,"t":4.83,"g":0.676},{"p":6,"t":5.08,"g":0.524},{"p":6,"t":5.34,"g":0.362},{"p":6,"t":5.59,"g":0.281},{"p":6,"t":5.84,"g":0.302},{"p":6,"t":6.16,"g":0.372},{"p":6,"t":6.47,"g":0.383},{"p":6,"t":6.79,"g":0.342},{"p":6,"t":7.1,"g":0.281},{"p":6,"t":7.36,"g":0.2},{"p":6,"t":7.61,"g":0.156},{"p":6,"t":7.86,"g":0.18},{"p":6,"t":8.12,"g":0.241},
{"p":7,"t":0.04,"m":0.436,"b":0.436},{"p":7,"t":0.29,"m":0.448,"b":0.448},{"p":7,"t":0.48,"m":0.428,"b":0.428},{"p":7,"t":0.8,"m":0.419,"b":0.419},{"p":7,"t":1.05,"m":0.401,"b":0.401},{"p":7,"t":1.18,"m":0.39,"b":0.39},{"p":7,"t":1.34,"m":0.396,"b":0.396},{"p":7,"t":1.49,"m":0.378,"b":0.378},{"p":7,"t":1.68,"m":0.375,"b":0.375},{"p":7,"t":2.0,"m":0.366,"b":0.366},{"p":7,"t":2.26,"m":0.36,"b":0.36},{"p":7,"t":2.51,"m":0.355,"b":0.355},{"p":7,"t":2.7,"m":0.331,"b":0.331},{"p":7,"t":2.89,"m":0.34,"b":0.34},{"p":7,"t":3.14,"m":0.331,"b":0.331},{"p":7,"t":3.4,"m":0.316,"b":0.316},{"p":7,"t":3.65,"m":0.308,"b":0.308},{"p":7,"t":3.84,"m":0.302,"b":0.302},{"p":7,"t":4.1,"m":0.291,"b":0.291},{"p":7,"t":4.35,"m":0.267,"b":0.267},{"p":7,"t":4.6,"m":0.25,"b":0.25},{"p":7,"t":4.79,"m":0.23,"b":0.23},{"p":7,"t":4.95,"m":0.2,"b":0.2},{"p":7,"t":5.11,"m":0.232,"b":0.232},{"p":7,"t":5.3,"m":0.232,"b":0.232},{"p":7,"t":5.55,"m":0.223,"b":0.223},{"p":7,"t":5.8,"m":0.209,"b":0.209},{"p":7,"t":6.05,"m":0.197,"b":0.197},{"p":7,"t":6.24,"m":0.176,"b":0.176},{"p":7,"t":6.43,"m":0.156,"b":0.156},{"p":7,"t":6.62,"m":0.162,"b":0.162},{"p":7,"t":6.77,"m":0.127,"b":0.127},{"p":7,"t":6.93,"m":0.151,"b":0.151},{"p":7,"t":7.1,"m":0.168,"b":0.168},{"p":7,"t":7.25,"m":0.156,"b":0.156},{"p":7,"t":7.5,"m":0.145,"b":0.145},{"p":7,"t":7.75,"m":0.141,"b":0.141},{"p":7,"t":8.0,"m":0.148,"b":0.148},{"p":7,"t":8.26,"m":0.145,"b":0.145},
{"p":7,"t":0,"g":1.45},{"p":7,"t":0.23,"g":1.19},{"p":7,"t":0.42,"g":0.99},{"p":7,"t":0.61,"g":0.747},{"p":7,"t":0.77,"g":0.545},{"p":7,"t":0.92,"g":0.484},{"p":7,"t":1.07,"g":0.625},{"p":7,"t":1.24,"g":0.787},{"p":7,"t":1.43,"g":0.949},{"p":7,"t":1.68,"g":1.07},{"p":7,"t":1.93,"g":1.172},{"p":7,"t":2.18,"g":1.233},{"p":7,"t":2.43,"g":1.243},{"p":7,"t":2.7,"g":1.213},{"p":7,"t":2.95,"g":1.152},{"p":7,"t":3.26,"g":1.05},{"p":7,"t":3.58,"g":0.949},{"p":7,"t":3.9,"g":0.848},{"p":7,"t":4.15,"g":0.747},{"p":7,"t":4.4,"g":0.585},{"p":7,"t":4.6,"g":0.443},{"p":7,"t":4.79,"g":0.302},{"p":7,"t":4.97,"g":0.18},{"p":7,"t":5.16,"g":0.342},{"p":7,"t":5.35,"g":0.565},{"p":7,"t":5.6,"g":0.589},{"p":7,"t":6.05,"g":0.589},{"p":7,"t":6.24,"g":0.504},{"p":7,"t":6.43,"g":0.342},{"p":7,"t":6.62,"g":0.18},{"p":7,"t":6.74,"g":0.123},{"p":7,"t":6.93,"g":0.241},{"p":7,"t":7.18,"g":0.383},{"p":7,"t":7.43,"g":0.484},{"p":7,"t":7.69,"g":0.545},{"p":7,"t":7.94,"g":0.636},{"p":7,"t":8.07,"g":0.646},{"p":7,"t":8.26,"g":0.642},
{"p":8,"t":0,"m":0.425,"b":0.425},{"p":8,"t":0.11,"m":0.384,"b":0.384},{"p":8,"t":0.21,"m":0.256,"b":0.256},{"p":8,"t":0.32,"m":0.168,"b":0.168},{"p":8,"t":0.44,"m":0.139,"b":0.139},{"p":8,"t":0.57,"m":0.256,"b":0.256},{"p":8,"t":0.72,"m":0.536,"b":0.536},{"p":8,"t":0.87,"m":0.526,"b":0.526},{"p":8,"t":1.04,"m":0.541,"b":0.541},{"p":8,"t":1.2,"m":0.588,"b":0.588},{"p":8,"t":1.33,"m":0.553,"b":0.553},{"p":8,"t":1.48,"m":0.603,"b":0.603},{"p":8,"t":1.58,"m":0.512,"b":0.512},{"p":8,"t":1.67,"m":0.302,"b":0.302},{"p":8,"t":1.76,"m":0.466,"b":0.466},{"p":8,"t":1.86,"m":0.396,"b":0.396},{"p":8,"t":1.99,"m":0.326,"b":0.326},{"p":8,"t":2.09,"m":0.585,"b":0.585},{"p":8,"t":2.24,"m":0.512,"b":0.512},{"p":8,"t":2.36,"m":0.495,"b":0.495},{"p":8,"t":2.55,"m":0.46,"b":0.46},{"p":8,"t":2.74,"m":0.454,"b":0.454},{"p":8,"t":3.0,"m":0.396,"b":0.396},{"p":8,"t":3.19,"m":0.361,"b":0.361},{"p":8,"t":3.38,"m":0.326,"b":0.326},{"p":8,"t":3.5,"m":0.279,"b":0.279},{"p":8,"t":3.65,"m":0.215,"b":0.215},{"p":8,"t":3.88,"m":0.218,"b":0.218},{"p":8,"t":4.07,"m":0.209,"b":0.209},{"p":8,"t":4.32,"m":0.203,"b":0.203},{"p":8,"t":4.58,"m":0.197,"b":0.197},{"p":8,"t":4.7,"m":0.203,"b":0.203},{"p":8,"t":4.89,"m":0.209,"b":0.209},{"p":8,"t":5.14,"m":0.197,"b":0.197},{"p":8,"t":5.4,"m":0.191,"b":0.191},{"p":8,"t":5.65,"m":0.18,"b":0.18},{"p":8,"t":5.8,"m":0.168,"b":0.168},{"p":8,"t":5.9,"m":0.131,"b":0.131},{"p":8,"t":6.16,"m":0.131,"b":0.131},{"p":8,"t":6.47,"m":0.139,"b":0.139},{"p":8,"t":6.79,"m":0.127,"b":0.127},{"p":8,"t":7.17,"m":0.127,"b":0.127},{"p":8,"t":7.42,"m":0.116,"b":0.116},{"p":8,"t":7.67,"m":0.106,"b":0.106},{"p":8,"t":7.99,"m":0.081,"b":0.081},{"p":8,"t":8.24,"m":0.104,"b":0.104},{"p":8,"t":8.56,"m":0.106,"b":0.106},{"p":8,"t":8.94,"m":0.106,"b":0.106},{"p":8,"t":9.25,"m":0.098,"b":0.098},{"p":8,"t":9.44,"m":0.092,"b":0.092},{"p":8,"t":9.82,"m":0.067,"b":0.067},
{"p":8,"t":0,"g":3.2},{"p":8,"t":1.16,"g":1.385},{"p":8,"t":1.23,"g":1.27},{"p":8,"t":1.42,"g":1.19},{"p":8,"t":1.61,"g":0.99},{"p":8,"t":1.76,"g":0.727},{"p":8,"t":1.88,"g":0.423},{"p":8,"t":1.96,"g":0.211},{"p":8,"t":2.09,"g":0.383},{"p":8,"t":2.24,"g":0.625},{"p":8,"t":2.47,"g":0.747},{"p":8,"t":2.72,"g":0.828},{"p":8,"t":2.97,"g":0.864},{"p":8,"t":3.19,"g":0.747},{"p":8,"t":3.38,"g":0.423},{"p":8,"t":3.53,"g":0.221},{"p":8,"t":3.67,"g":0.115},{"p":8,"t":3.82,"g":0.261},{"p":8,"t":4.01,"g":0.545},{"p":8,"t":4.24,"g":0.808},{"p":8,"t":4.45,"g":0.96},{"p":8,"t":4.66,"g":1.006},{"p":8,"t":4.89,"g":0.939},{"p":8,"t":5.08,"g":0.933},{"p":8,"t":5.34,"g":0.808},{"p":8,"t":5.59,"g":0.585},{"p":8,"t":5.84,"g":0.322},{"p":8,"t":6.06,"g":0.15},{"p":8,"t":6.22,"g":0.156},{"p":8,"t":6.41,"g":0.383},{"p":8,"t":6.66,"g":0.545},{"p":8,"t":6.98,"g":0.601},{"p":8,"t":7.23,"g":0.585},{"p":8,"t":7.48,"g":0.484},{"p":8,"t":7.74,"g":0.302},{"p":8,"t":7.93,"g":0.14},{"p":8,"t":8.05,"g":0.099},{"p":8,"t":8.24,"g":0.342},{"p":8,"t":8.5,"g":0.545},{"p":8,"t":8.69,"g":0.585},{"p":8,"t":8.94,"g":0.565},{"p":8,"t":9.25,"g":0.464},{"p":8,"t":9.51,"g":0.302},{"p":8,"t":9.76,"g":0.14},{"p":8,"t":9.89,"g":0.089},
{"p":9,"t":0.04,"m":0.6,"b":0.6},{"p":9,"t":0.16,"m":0.594,"b":0.594},{"p":9,"t":0.32,"m":0.606,"b":0.606},{"p":9,"t":0.48,"m":0.588,"b":0.588},{"p":9,"t":0.67,"m":0.576,"b":0.576},{"p":9,"t":0.86,"m":0.547,"b":0.547},{"p":9,"t":1.02,"m":0.518,"b":0.518},{"p":9,"t":1.15,"m":0.495,"b":0.495},{"p":9,"t":1.24,"m":0.407,"b":0.407},{"p":9,"t":1.34,"m":0.314,"b":0.314},{"p":9,"t":1.45,"m":0.279,"b":0.279},{"p":9,"t":1.55,"m":0.43,"b":0.43},{"p":9,"t":1.68,"m":0.489,"b":0.489},{"p":9,"t":1.87,"m":0.454,"b":0.454},{"p":9,"t":2.04,"m":0.448,"b":0.448},{"p":9,"t":2.21,"m":0.463,"b":0.463},{"p":9,"t":2.38,"m":0.448,"b":0.448},{"p":9,"t":2.57,"m":0.448,"b":0.448},{"p":9,"t":2.73,"m":0.407,"b":0.407},{"p":9,"t":2.88,"m":0.314,"b":0.314},{"p":9,"t":3.0,"m":0.209,"b":0.209},{"p":9,"t":3.17,"m":0.256,"b":0.256},{"p":9,"t":3.33,"m":0.32,"b":0.32},{"p":9,"t":3.52,"m":0.337,"b":0.337},{"p":9,"t":3.71,"m":0.349,"b":0.349},{"p":9,"t":3.9,"m":0.366,"b":0.366},{"p":9,"t":4.08,"m":0.355,"b":0.355},{"p":9,"t":4.27,"m":0.337,"b":0.337},{"p":9,"t":4.46,"m":0.302,"b":0.302},{"p":9,"t":4.59,"m":0.32,"b":0.32},{"p":9,"t":4.74,"m":0.337,"b":0.337},{"p":9,"t":4.9,"m":0.296,"b":0.296},{"p":9,"t":5.09,"m":0.291,"b":0.291},{"p":9,"t":5.26,"m":0.244,"b":0.244},{"p":9,"t":5.41,"m":0.191,"b":0.191},{"p":9,"t":5.57,"m":0.232,"b":0.232},{"p":9,"t":5.73,"m":0.273,"b":0.273},{"p":9,"t":5.92,"m":0.27,"b":0.27},{"p":9,"t":6.11,"m":0.261,"b":0.261},{"p":9,"t":6.3,"m":0.256,"b":0.256},{"p":9,"t":6.48,"m":0.256,"b":0.256},{"p":9,"t":6.67,"m":0.244,"b":0.244},{"p":9,"t":6.8,"m":0.246,"b":0.246},{"p":9,"t":6.97,"m":0.186,"b":0.186},{"p":9,"t":7.12,"m":0.139,"b":0.139},{"p":9,"t":7.27,"m":0.186,"b":0.186},{"p":9,"t":7.43,"m":0.145,"b":0.145},{"p":9,"t":7.62,"m":0.141,"b":0.141},{"p":9,"t":7.81,"m":0.133,"b":0.133},{"p":9,"t":7.98,"m":0.121,"b":0.121},{"p":9,"t":8.1,"m":0.174,"b":0.174},
{"p":9,"t":0,"g":2.5},{"p":9,"t":0.54,"g":1.385},{"p":9,"t":0.73,"g":1.19},{"p":9,"t":0.9,"g":0.889},{"p":9,"t":1.02,"g":0.625},{"p":9,"t":1.18,"g":0.342},{"p":9,"t":1.3,"g":0.18},{"p":9,"t":1.45,"g":0.302},{"p":9,"t":1.62,"g":0.524},{"p":9,"t":1.87,"g":0.646},{"p":9,"t":2.12,"g":0.696},{"p":9,"t":2.38,"g":0.656},{"p":9,"t":2.63,"g":0.524},{"p":9,"t":2.88,"g":0.342},{"p":9,"t":3.13,"g":0.16},{"p":9,"t":3.39,"g":0.302},{"p":9,"t":3.64,"g":0.464},{"p":9,"t":3.96,"g":0.555},{"p":9,"t":4.21,"g":0.524},{"p":9,"t":4.53,"g":0.443},{"p":9,"t":4.78,"g":0.383},{"p":9,"t":5.03,"g":0.261},{"p":9,"t":5.35,"g":0.16},{"p":9,"t":5.6,"g":0.322},{"p":9,"t":5.92,"g":0.443},{"p":9,"t":6.24,"g":0.464},{"p":9,"t":6.48,"g":0.443},{"p":9,"t":6.74,"g":0.342},{"p":9,"t":7.0,"g":0.16},{"p":9,"t":7.17,"g":0.115},{"p":9,"t":7.43,"g":0.221},{"p":9,"t":7.68,"g":0.281},{"p":9,"t":7.93,"g":0.285},{"p":9,"t":8.13,"g":0.241},
{"p":10,"t":0,"m":0.553,"b":0.553},{"p":10,"t":0.15,"m":0.541,"b":0.541},{"p":10,"t":0.32,"m":0.553,"b":0.553},{"p":10,"t":0.44,"m":0.565,"b":0.565},{"p":10,"t":0.57,"m":0.506,"b":0.506},{"p":10,"t":0.7,"m":0.5,"b":0.5},{"p":10,"t":0.87,"m":0.466,"b":0.466},{"p":10,"t":1.04,"m":0.489,"b":0.489},{"p":10,"t":1.23,"m":0.396,"b":0.396},{"p":10,"t":1.35,"m":0.466,"b":0.466},{"p":10,"t":1.54,"m":0.43,"b":0.43},{"p":10,"t":1.73,"m":0.401,"b":0.401},{"p":10,"t":1.99,"m":0.37,"b":0.37},{"p":10,"t":2.24,"m":0.355,"b":0.355},{"p":10,"t":2.43,"m":0.32,"b":0.32},{"p":10,"t":2.62,"m":0.302,"b":0.302},{"p":10,"t":2.87,"m":0.273,"b":0.273},{"p":10,"t":3.06,"m":0.226,"b":0.226},{"p":10,"t":3.22,"m":0.232,"b":0.232},{"p":10,"t":3.38,"m":0.221,"b":0.221},{"p":10,"t":3.57,"m":0.209,"b":0.209},{"p":10,"t":3.73,"m":0.18,"b":0.18},{"p":10,"t":3.88,"m":0.188,"b":0.188},{"p":10,"t":4.13,"m":0.174,"b":0.174},{"p":10,"t":4.39,"m":0.162,"b":0.162},{"p":10,"t":4.7,"m":0.151,"b":0.151},{"p":10,"t":4.95,"m":0.133,"b":0.133},{"p":10,"t":5.2,"m":0.127,"b":0.127},{"p":10,"t":5.46,"m":0.11,"b":0.11},{"p":10,"t":5.71,"m":0.102,"b":0.102},{"p":10,"t":5.84,"m":0.133,"b":0.133},{"p":10,"t":6.03,"m":0.13,"b":0.13},{"p":10,"t":6.28,"m":0.127,"b":0.127},{"p":10,"t":6.54,"m":0.124,"b":0.124},{"p":10,"t":6.69,"m":0.11,"b":0.11},{"p":10,"t":6.85,"m":0.127,"b":0.127},{"p":10,"t":7.1,"m":0.116,"b":0.116},{"p":10,"t":7.42,"m":0.11,"b":0.11},{"p":10,"t":7.67,"m":0.113,"b":0.113},{"p":10,"t":7.99,"m":0.11,"b":0.11},{"p":10,"t":8.31,"m":0.104,"b":0.104},{"p":10,"t":8.5,"m":0.106,"b":0.106},{"p":10,"t":8.69,"m":0.083,"b":0.083},{"p":10,"t":8.88,"m":0.098,"b":0.098},{"p":10,"t":9.0,"m":0.092,"b":0.092},
{"p":10,"t":0,"g":2.0},{"p":10,"t":0.47,"g":1.385},{"p":10,"t":0.66,"g":1.23},{"p":10,"t":0.85,"g":1.01},{"p":10,"t":1.04,"g":0.889},{"p":10,"t":1.23,"g":0.787},{"p":10,"t":1.48,"g":0.787},{"p":10,"t":1.8,"g":0.798},{"p":10,"t":2.11,"g":0.757},{"p":10,"t":2.43,"g":0.777},{"p":10,"t":2.62,"g":0.767},{"p":10,"t":2.81,"g":0.666},{"p":10,"t":3.06,"g":0.524},{"p":10,"t":3.32,"g":0.423},{"p":10,"t":3.57,"g":0.393},{"p":10,"t":3.88,"g":0.423},{"p":10,"t":4.13,"g":0.504},{"p":10,"t":4.45,"g":0.615},{"p":10,"t":4.74,"g":0.666},{"p":10,"t":4.95,"g":0.625},{"p":10,"t":5.2,"g":0.464},{"p":10,"t":5.46,"g":0.281},{"p":10,"t":5.71,"g":0.14},{"p":10,"t":5.9,"g":0.261},{"p":10,"t":6.16,"g":0.464},{"p":10,"t":6.47,"g":0.528},{"p":10,"t":6.73,"g":0.504},{"p":10,"t":6.98,"g":0.403},{"p":10,"t":7.23,"g":0.241},{"p":10,"t":7.52,"g":0.079},{"p":10,"t":7.74,"g":0.2},{"p":10,"t":7.99,"g":0.302},{"p":10,"t":8.24,"g":0.261},{"p":10,"t":8.5,"g":0.14},{"p":10,"t":8.66,"g":0.059},{"p":10,"t":8.81,"g":0.14},{"p":10,"t":9.0,"g":0.241},
{"p":11,"t":0.04,"m":0.5,"b":0.5},{"p":11,"t":0.1,"m":0.442,"b":0.442},{"p":11,"t":0.2,"m":0.384,"b":0.384},{"p":11,"t":0.29,"m":0.328,"b":0.328},{"p":11,"t":0.39,"m":0.43,"b":0.43},{"p":11,"t":0.52,"m":0.582,"b":0.582},{"p":11,"t":0.67,"m":0.623,"b":0.623},{"p":11,"t":0.8,"m":0.629,"b":0.629},{"p":11,"t":0.92,"m":0.588,"b":0.588},{"p":11,"t":1.05,"m":0.524,"b":0.524},{"p":11,"t":1.18,"m":0.559,"b":0.559},{"p":11,"t":1.34,"m":0.585,"b":0.585},{"p":11,"t":1.53,"m":0.553,"b":0.553},{"p":11,"t":1.68,"m":0.5,"b":0.5},{"p":11,"t":1.83,"m":0.448,"b":0.448},{"p":11,"t":2.0,"m":0.454,"b":0.454},{"p":11,"t":2.16,"m":0.466,"b":0.466},{"p":11,"t":2.29,"m":0.419,"b":0.419},{"p":11,"t":2.44,"m":0.361,"b":0.361},{"p":11,"t":2.57,"m":0.291,"b":0.291},{"p":11,"t":2.7,"m":0.244,"b":0.244},{"p":11,"t":2.85,"m":0.197,"b":0.197},{"p":11,"t":3.01,"m":0.18,"b":0.18},{"p":11,"t":3.2,"m":0.215,"b":0.215},{"p":11,"t":3.35,"m":0.226,"b":0.226},{"p":11,"t":3.52,"m":0.209,"b":0.209},{"p":11,"t":3.64,"m":0.197,"b":0.197},{"p":11,"t":3.77,"m":0.139,"b":0.139},{"p":11,"t":3.93,"m":0.209,"b":0.209},{"p":11,"t":4.08,"m":0.191,"b":0.191},{"p":11,"t":4.27,"m":0.197,"b":0.197},{"p":11,"t":4.46,"m":0.191,"b":0.191},{"p":11,"t":4.59,"m":0.191,"b":0.191},{"p":11,"t":4.75,"m":0.133,"b":0.133},{"p":11,"t":4.94,"m":0.151,"b":0.151},{"p":11,"t":5.09,"m":0.145,"b":0.145},{"p":11,"t":5.28,"m":0.145,"b":0.145},{"p":11,"t":5.47,"m":0.116,"b":0.116},{"p":11,"t":5.66,"m":0.121,"b":0.121},{"p":11,"t":5.85,"m":0.116,"b":0.116},{"p":11,"t":6.11,"m":0.133,"b":0.133},{"p":11,"t":6.36,"m":0.116,"b":0.116},{"p":11,"t":6.68,"m":0.113,"b":0.113},{"p":11,"t":6.99,"m":0.11,"b":0.11},{"p":11,"t":7.31,"m":0.104,"b":0.104},{"p":11,"t":7.62,"m":0.092,"b":0.092},{"p":11,"t":7.88,"m":0.083,"b":0.083},{"p":11,"t":8.13,"m":0.081,"b":0.081},{"p":11,"t":8.32,"m":0.09,"b":0.09},{"p":11,"t":8.58,"m":0.092,"b":0.092},{"p":11,"t":8.89,"m":0.075,"b":0.075},{"p":11,"t":9.08,"m":0.081,"b":0.081},{"p":11,"t":9.33,"m":0.078,"b":0.078},{"p":11,"t":9.58,"m":0.081,"b":0.081},{"p":11,"t":9.84,"m":0.071,"b":0.071},
{"p":11,"t":0,"g":1.48},{"p":11,"t":0.16,"g":1.09},{"p":11,"t":0.29,"g":0.727},{"p":11,"t":0.39,"g":0.484},{"p":11,"t":0.48,"g":0.342},{"p":11,"t":0.61,"g":0.545},{"p":11,"t":0.77,"g":0.747},{"p":11,"t":0.95,"g":0.868},{"p":11,"t":1.07,"g":0.878},{"p":11,"t":1.24,"g":0.787},{"p":11,"t":1.43,"g":0.605},{"p":11,"t":1.62,"g":0.464},{"p":11,"t":1.81,"g":0.352},{"p":11,"t":2.0,"g":0.383},{"p":11,"t":2.26,"g":0.464},{"p":11,"t":2.51,"g":0.403},{"p":11,"t":2.7,"g":0.302},{"p":11,"t":2.95,"g":0.291},{"p":11,"t":3.2,"g":0.271},{"p":11,"t":3.45,"g":0.221},{"p":11,"t":3.77,"g":0.119},{"p":11,"t":4.02,"g":0.241},{"p":11,"t":4.34,"g":0.302},{"p":11,"t":4.72,"g":0.14},{"p":11,"t":4.97,"g":0.281},{"p":11,"t":5.22,"g":0.372},{"p":11,"t":5.47,"g":0.362},{"p":11,"t":5.79,"g":0.261},{"p":11,"t":6.11,"g":0.19},{"p":11,"t":6.36,"g":0.221},{"p":11,"t":6.62,"g":0.312},{"p":11,"t":6.87,"g":0.352},{"p":11,"t":7.18,"g":0.261},{"p":11,"t":7.5,"g":0.15},{"p":11,"t":7.75,"g":0.221},{"p":11,"t":8.13,"g":0.291},{"p":11,"t":8.45,"g":0.221},{"p":11,"t":8.76,"g":0.15},{"p":11,"t":9.08,"g":0.241},{"p":11,"t":9.39,"g":0.302},{"p":11,"t":9.71,"g":0.261},{"p":11,"t":9.87,"g":0.2},
{"p":12,"t":0,"m":0.471,"b":0.471},{"p":12,"t":0.06,"m":0.337,"b":0.337},{"p":12,"t":0.15,"m":0.256,"b":0.256},{"p":12,"t":0.24,"m":0.337,"b":0.337},{"p":12,"t":0.34,"m":0.413,"b":0.413},{"p":12,"t":0.44,"m":0.506,"b":0.506},{"p":12,"t":0.59,"m":0.483,"b":0.483},{"p":12,"t":0.72,"m":0.384,"b":0.384},{"p":12,"t":0.85,"m":0.431,"b":0.431},{"p":12,"t":1.04,"m":0.46,"b":0.46},{"p":12,"t":1.19,"m":0.407,"b":0.407},{"p":12,"t":1.35,"m":0.401,"b":0.401},{"p":12,"t":1.54,"m":0.361,"b":0.361},{"p":12,"t":1.71,"m":0.331,"b":0.331},{"p":12,"t":1.86,"m":0.279,"b":0.279},{"p":12,"t":2.02,"m":0.302,"b":0.302},{"p":12,"t":2.21,"m":0.279,"b":0.279},{"p":12,"t":2.36,"m":0.314,"b":0.314},{"p":12,"t":2.49,"m":0.372,"b":0.372},{"p":12,"t":2.68,"m":0.314,"b":0.314},{"p":12,"t":2.84,"m":0.343,"b":0.343},{"p":12,"t":3.06,"m":0.302,"b":0.302},{"p":12,"t":3.25,"m":0.232,"b":0.232},{"p":12,"t":3.44,"m":0.186,"b":0.186},{"p":12,"t":3.63,"m":0.232,"b":0.232},{"p":12,"t":3.75,"m":0.291,"b":0.291},{"p":12,"t":3.94,"m":0.25,"b":0.25},{"p":12,"t":4.07,"m":0.267,"b":0.267},{"p":12,"t":4.26,"m":0.32,"b":0.32},{"p":12,"t":4.45,"m":0.273,"b":0.273},{"p":12,"t":4.58,"m":0.244,"b":0.244},{"p":12,"t":4.74,"m":0.302,"b":0.302},{"p":12,"t":4.89,"m":0.256,"b":0.256},{"p":12,"t":5.08,"m":0.209,"b":0.209},{"p":12,"t":5.27,"m":0.186,"b":0.186},{"p":12,"t":5.53,"m":0.092,"b":0.092},{"p":12,"t":5.72,"m":0.127,"b":0.127},{"p":12,"t":5.88,"m":0.174,"b":0.174},{"p":12,"t":6.09,"m":0.209,"b":0.209},{"p":12,"t":6.28,"m":0.226,"b":0.226},{"p":12,"t":6.47,"m":0.221,"b":0.221},{"p":12,"t":6.66,"m":0.261,"b":0.261},{"p":12,"t":6.85,"m":0.221,"b":0.221},{"p":12,"t":7.04,"m":0.2,"b":0.2},{"p":12,"t":7.23,"m":0.191,"b":0.191},{"p":12,"t":7.52,"m":0.081,"b":0.081},{"p":12,"t":7.74,"m":0.116,"b":0.116},{"p":12,"t":7.99,"m":0.127,"b":0.127},{"p":12,"t":8.24,"m":0.133,"b":0.133},{"p":12,"t":8.5,"m":0.156,"b":0.156},{"p":12,"t":8.69,"m":0.133,"b":0.133},{"p":12,"t":8.81,"m":0.151,"b":0.151},{"p":12,"t":9.0,"m":0.127,"b":0.127},{"p":12,"t":9.17,"m":0.141,"b":0.141},
{"p":12,"t":0,"g":2.1},{"p":12,"t":0.53,"g":1.385},{"p":12,"t":0.72,"g":1.13},{"p":12,"t":0.91,"g":0.808},{"p":12,"t":1.1,"g":0.585},{"p":12,"t":1.29,"g":0.494},{"p":12,"t":1.48,"g":0.474},{"p":12,"t":1.67,"g":0.504},{"p":12,"t":1.86,"g":0.585},{"p":12,"t":2.05,"g":0.63},{"p":12,"t":2.24,"g":0.656},{"p":12,"t":2.49,"g":0.696},{"p":12,"t":2.68,"g":0.717},{"p":12,"t":2.9,"g":0.646},{"p":12,"t":3.12,"g":0.504},{"p":12,"t":3.35,"g":0.342},{"p":12,"t":3.53,"g":0.257},{"p":12,"t":3.69,"g":0.423},{"p":12,"t":3.91,"g":0.585},{"p":12,"t":4.13,"g":0.727},{"p":12,"t":4.39,"g":0.777},{"p":12,"t":4.64,"g":0.747},{"p":12,"t":4.89,"g":0.646},{"p":12,"t":5.08,"g":0.524},{"p":12,"t":5.27,"g":0.342},{"p":12,"t":5.53,"g":0.089},{"p":12,"t":5.72,"g":0.261},{"p":12,"t":5.97,"g":0.443},{"p":12,"t":6.22,"g":0.565},{"p":12,"t":6.47,"g":0.636},{"p":12,"t":6.73,"g":0.605},{"p":12,"t":6.92,"g":0.504},{"p":12,"t":7.17,"g":0.302},{"p":12,"t":7.42,"g":0.13},{"p":12,"t":7.55,"g":0.099},{"p":12,"t":7.74,"g":0.261},{"p":12,"t":7.99,"g":0.403},{"p":12,"t":8.24,"g":0.423},{"p":12,"t":8.56,"g":0.403},{"p":12,"t":8.88,"g":0.342},{"p":12,"t":9.13,"g":0.251},
{"p":13,"t":0.04,"m":0.594,"b":0.594},{"p":13,"t":0.1,"m":0.454,"b":0.454},{"p":13,"t":0.16,"m":0.314,"b":0.314},{"p":13,"t":0.27,"m":0.606,"b":0.606},{"p":13,"t":0.44,"m":0.608,"b":0.608},{"p":13,"t":0.61,"m":0.623,"b":0.623},{"p":13,"t":0.77,"m":0.582,"b":0.582},{"p":13,"t":0.92,"m":0.594,"b":0.594},{"p":13,"t":1.05,"m":0.442,"b":0.442},{"p":13,"t":1.18,"m":0.571,"b":0.571},{"p":13,"t":1.34,"m":0.582,"b":0.582},{"p":13,"t":1.49,"m":0.541,"b":0.541},{"p":13,"t":1.62,"m":0.617,"b":0.617},{"p":13,"t":1.79,"m":0.536,"b":0.536},{"p":13,"t":1.93,"m":0.576,"b":0.576},{"p":13,"t":2.12,"m":0.592,"b":0.592},{"p":13,"t":2.31,"m":0.596,"b":0.596},{"p":13,"t":2.44,"m":0.541,"b":0.541},{"p":13,"t":2.59,"m":0.553,"b":0.553},{"p":13,"t":2.76,"m":0.5,"b":0.5},{"p":13,"t":2.92,"m":0.506,"b":0.506},{"p":13,"t":3.07,"m":0.495,"b":0.495},{"p":13,"t":3.2,"m":0.53,"b":0.53},{"p":13,"t":3.39,"m":0.448,"b":0.448},{"p":13,"t":3.58,"m":0.419,"b":0.419},{"p":13,"t":3.77,"m":0.401,"b":0.401},{"p":13,"t":3.93,"m":0.378,"b":0.378},{"p":13,"t":4.11,"m":0.401,"b":0.401},{"p":13,"t":4.27,"m":0.454,"b":0.454},{"p":13,"t":4.42,"m":0.489,"b":0.489},{"p":13,"t":4.59,"m":0.46,"b":0.46},{"p":13,"t":4.78,"m":0.436,"b":0.436},{"p":13,"t":4.97,"m":0.396,"b":0.396},{"p":13,"t":5.2,"m":0.355,"b":0.355},{"p":13,"t":5.35,"m":0.361,"b":0.361},{"p":13,"t":5.54,"m":0.343,"b":0.343},{"p":13,"t":5.73,"m":0.366,"b":0.366},{"p":13,"t":5.92,"m":0.361,"b":0.361},{"p":13,"t":6.08,"m":0.401,"b":0.401},{"p":13,"t":6.24,"m":0.361,"b":0.361},{"p":13,"t":6.43,"m":0.326,"b":0.326},{"p":13,"t":6.62,"m":0.361,"b":0.361},{"p":13,"t":6.81,"m":0.378,"b":0.378},{"p":13,"t":7.06,"m":0.384,"b":0.384},{"p":13,"t":7.25,"m":0.366,"b":0.366},{"p":13,"t":7.43,"m":0.337,"b":0.337},{"p":13,"t":7.62,"m":0.32,"b":0.32},{"p":13,"t":7.81,"m":0.308,"b":0.308},{"p":13,"t":8.0,"m":0.291,"b":0.291},{"p":13,"t":8.26,"m":0.244,"b":0.244},{"p":13,"t":8.36,"m":0.197,"b":0.197},{"p":13,"t":8.45,"m":0.116,"b":0.104},{"p":13,"t":8.57,"m":0.186,"b":0.186},{"p":13,"t":8.74,"m":0.279,"b":0.279},{"p":13,"t":8.95,"m":0.291,"b":0.291},{"p":13,"t":9.14,"m":0.302,"b":0.302},{"p":13,"t":9.29,"m":0.273,"b":0.273},{"p":13,"t":9.46,"m":0.291,"b":0.291},{"p":13,"t":9.65,"m":0.308,"b":0.308},{"p":13,"t":9.84,"m":0.267,"b":0.267},
{"p":13,"t":0,"g":1.6},{"p":13,"t":0.1,"g":1.385},{"p":13,"t":0.29,"g":0.99},{"p":13,"t":0.44,"g":0.727},{"p":13,"t":0.58,"g":0.565},{"p":13,"t":0.73,"g":0.747},{"p":13,"t":0.92,"g":1.09},{"p":13,"t":1.11,"g":1.385},{"p":13,"t":1.6,"g":2.0},{"p":13,"t":2.19,"g":1.385},{"p":13,"t":2.44,"g":1.19},{"p":13,"t":2.7,"g":0.99},{"p":13,"t":2.95,"g":0.808},{"p":13,"t":3.2,"g":0.646},{"p":13,"t":3.39,"g":0.524},{"p":13,"t":3.58,"g":0.423},{"p":13,"t":3.77,"g":0.383},{"p":13,"t":3.96,"g":0.423},{"p":13,"t":4.21,"g":0.585},{"p":13,"t":4.46,"g":0.615},{"p":13,"t":4.78,"g":0.595},{"p":13,"t":5.09,"g":0.565},{"p":13,"t":5.35,"g":0.504},{"p":13,"t":5.6,"g":0.423},{"p":13,"t":5.85,"g":0.302},{"p":13,"t":6.05,"g":0.237},{"p":13,"t":6.24,"g":0.302},{"p":13,"t":6.48,"g":0.443},{"p":13,"t":6.74,"g":0.565},{"p":13,"t":7.06,"g":0.656},{"p":13,"t":7.37,"g":0.686},{"p":13,"t":7.62,"g":0.646},{"p":13,"t":7.88,"g":0.565},{"p":13,"t":8.07,"g":0.423},{"p":13,"t":8.26,"g":0.261},{"p":13,"t":8.45,"g":0.059},{"p":13,"t":8.64,"g":0.261},{"p":13,"t":8.89,"g":0.484},{"p":13,"t":9.14,"g":0.585},{"p":13,"t":9.46,"g":0.666},{"p":13,"t":9.71,"g":0.727},{"p":13,"t":9.87,"g":0.737},
{"p":14,"t":0,"m":0.419,"b":0.419},{"p":14,"t":0.09,"m":0.384,"b":0.384},{"p":14,"t":0.28,"m":0.361,"b":0.361},{"p":14,"t":0.4,"m":0.279,"b":0.279},{"p":14,"t":0.53,"m":0.209,"b":0.209},{"p":14,"t":0.66,"m":0.151,"b":0.151},{"p":14,"t":0.78,"m":0.104,"b":0.104},{"p":14,"t":0.95,"m":0.156,"b":0.156},{"p":14,"t":1.1,"m":0.209,"b":0.209},{"p":14,"t":1.23,"m":0.226,"b":0.226},{"p":14,"t":1.38,"m":0.168,"b":0.168},{"p":14,"t":1.54,"m":0.176,"b":0.176},{"p":14,"t":1.73,"m":0.18,"b":0.18},{"p":14,"t":1.99,"m":0.172,"b":0.172},{"p":14,"t":2.14,"m":0.145,"b":0.145},{"p":14,"t":2.3,"m":0.197,"b":0.197},{"p":14,"t":2.49,"m":0.151,"b":0.151},{"p":14,"t":2.74,"m":0.156,"b":0.156},{"p":14,"t":2.93,"m":0.174,"b":0.174},{"p":14,"t":3.12,"m":0.209,"b":0.209},{"p":14,"t":3.31,"m":0.308,"b":0.308},{"p":14,"t":3.44,"m":0.291,"b":0.291},{"p":14,"t":3.57,"m":0.232,"b":0.232},{"p":14,"t":3.69,"m":0.186,"b":0.186},{"p":14,"t":3.88,"m":0.139,"b":0.139},{"p":14,"t":4.07,"m":0.11,"b":0.11},{"p":14,"t":4.32,"m":0.075,"b":0.075},{"p":14,"t":4.64,"m":0.083,"b":0.083},{"p":14,"t":4.89,"m":0.081,"b":0.081},{"p":14,"t":5.2,"m":0.086,"b":0.086},{"p":14,"t":5.52,"m":0.075,"b":0.075},{"p":14,"t":5.84,"m":0.075,"b":0.075},{"p":14,"t":6.16,"m":0.069,"b":0.069},{"p":14,"t":6.54,"m":0.075,"b":0.075},{"p":14,"t":6.85,"m":0.069,"b":0.069},{"p":14,"t":7.17,"m":0.081,"b":0.081},{"p":14,"t":7.42,"m":0.075,"b":0.075},{"p":14,"t":7.67,"m":0.063,"b":0.063},{"p":14,"t":7.86,"m":0.069,"b":0.069},{"p":14,"t":8.05,"m":0.078,"b":0.078},
{"p":14,"t":0,"g":1.3},{"p":14,"t":0.15,"g":0.99},{"p":14,"t":0.34,"g":0.666},{"p":14,"t":0.53,"g":0.423},{"p":14,"t":0.72,"g":0.332},{"p":14,"t":0.91,"g":0.362},{"p":14,"t":1.16,"g":0.545},{"p":14,"t":1.42,"g":0.656},{"p":14,"t":1.73,"g":0.696},{"p":14,"t":2.05,"g":0.737},{"p":14,"t":2.36,"g":0.747},{"p":14,"t":2.62,"g":0.717},{"p":14,"t":2.87,"g":0.646},{"p":14,"t":3.12,"g":0.625},{"p":14,"t":3.44,"g":0.605},{"p":14,"t":3.69,"g":0.555},{"p":14,"t":3.94,"g":0.464},{"p":14,"t":4.26,"g":0.322},{"p":14,"t":4.51,"g":0.251},{"p":14,"t":4.77,"g":0.322},{"p":14,"t":5.02,"g":0.383},{"p":14,"t":5.27,"g":0.413},{"p":14,"t":5.52,"g":0.362},{"p":14,"t":5.78,"g":0.261},{"p":14,"t":6.03,"g":0.19},{"p":14,"t":6.28,"g":0.241},{"p":14,"t":6.54,"g":0.332},{"p":14,"t":6.85,"g":0.352},{"p":14,"t":7.17,"g":0.291},{"p":14,"t":7.42,"g":0.2},{"p":14,"t":7.61,"g":0.14},{"p":14,"t":7.8,"g":0.241},{"p":14,"t":8.12,"g":0.383},
{"p":15,"t":0.04,"m":0.419,"b":0.419},{"p":15,"t":0.16,"m":0.384,"b":0.384},{"p":15,"t":0.29,"m":0.366,"b":0.366},{"p":15,"t":0.42,"m":0.39,"b":0.39},{"p":15,"t":0.61,"m":0.361,"b":0.361},{"p":15,"t":0.77,"m":0.337,"b":0.337},{"p":15,"t":0.9,"m":0.256,"b":0.256},{"p":15,"t":1.05,"m":0.191,"b":0.191},{"p":15,"t":1.18,"m":0.162,"b":0.162},{"p":15,"t":1.34,"m":0.127,"b":0.127},{"p":15,"t":1.49,"m":0.174,"b":0.174},{"p":15,"t":1.62,"m":0.256,"b":0.256},{"p":15,"t":1.75,"m":0.384,"b":0.384},{"p":15,"t":1.87,"m":0.384,"b":0.384},{"p":15,"t":2.0,"m":0.3,"b":0.3},{"p":15,"t":2.16,"m":0.314,"b":0.314},{"p":15,"t":2.31,"m":0.244,"b":0.244},{"p":15,"t":2.47,"m":0.256,"b":0.256},{"p":15,"t":2.63,"m":0.203,"b":0.203},{"p":15,"t":2.79,"m":0.226,"b":0.226},{"p":15,"t":2.95,"m":0.203,"b":0.203},{"p":15,"t":3.07,"m":0.139,"b":0.139},{"p":15,"t":3.26,"m":0.069,"b":0.069},{"p":15,"t":3.45,"m":0.063,"b":0.063},{"p":15,"t":3.64,"m":0.092,"b":0.092},{"p":15,"t":3.83,"m":0.075,"b":0.075},{"p":15,"t":4.02,"m":0.086,"b":0.086},{"p":15,"t":4.15,"m":0.069,"b":0.069},{"p":15,"t":4.34,"m":0.075,"b":0.075},{"p":15,"t":4.59,"m":0.051,"b":0.051},{"p":15,"t":4.78,"m":0.046,"b":0.046},{"p":15,"t":4.97,"m":0.034,"b":0.034},{"p":15,"t":5.16,"m":0.048,"b":0.048},{"p":15,"t":5.41,"m":0.063,"b":0.063},{"p":15,"t":5.66,"m":0.057,"b":0.057},{"p":15,"t":5.92,"m":0.069,"b":0.069},{"p":15,"t":6.17,"m":0.046,"b":0.046},{"p":15,"t":6.43,"m":0.034,"b":0.03},{"p":15,"t":6.74,"m":0.032,"b":0.027},{"p":15,"t":7.06,"m":0.032,"b":0.027},{"p":15,"t":7.31,"m":0.036,"b":0.03},{"p":15,"t":7.5,"m":0.04,"b":0.033},{"p":15,"t":7.69,"m":0.034,"b":0.025},
{"p":15,"t":0,"g":1.44},{"p":15,"t":0.23,"g":1.13},{"p":15,"t":0.42,"g":0.848},{"p":15,"t":0.58,"g":0.585},{"p":15,"t":0.8,"g":0.423},{"p":15,"t":0.99,"g":0.372},{"p":15,"t":1.24,"g":0.393},{"p":15,"t":1.49,"g":0.383},{"p":15,"t":1.68,"g":0.342},{"p":15,"t":1.87,"g":0.423},{"p":15,"t":2.12,"g":0.545},{"p":15,"t":2.38,"g":0.625},{"p":15,"t":2.57,"g":0.646},{"p":15,"t":2.76,"g":0.585},{"p":15,"t":2.95,"g":0.443},{"p":15,"t":3.14,"g":0.261},{"p":15,"t":3.33,"g":0.119},{"p":15,"t":3.52,"g":0.261},{"p":15,"t":3.77,"g":0.383},{"p":15,"t":4.02,"g":0.423},{"p":15,"t":4.27,"g":0.393},{"p":15,"t":4.53,"g":0.261},{"p":15,"t":4.78,"g":0.14},{"p":15,"t":4.97,"g":0.089},{"p":15,"t":5.16,"g":0.221},{"p":15,"t":5.35,"g":0.362},{"p":15,"t":5.54,"g":0.413},{"p":15,"t":5.79,"g":0.362},{"p":15,"t":6.05,"g":0.221},{"p":15,"t":6.3,"g":0.079},{"p":15,"t":6.48,"g":0.18},{"p":15,"t":6.68,"g":0.281},{"p":15,"t":6.93,"g":0.271},{"p":15,"t":7.18,"g":0.18},{"p":15,"t":7.37,"g":0.14},{"p":15,"t":7.56,"g":0.15},{"p":15,"t":7.75,"g":0.19},
{"p":16,"t":0,"m":0.46,"b":0.46},{"p":16,"t":0.09,"m":0.407,"b":0.407},{"p":16,"t":0.21,"m":0.366,"b":0.366},{"p":16,"t":0.4,"m":0.337,"b":0.337},{"p":16,"t":0.59,"m":0.291,"b":0.291},{"p":16,"t":0.78,"m":0.285,"b":0.285},{"p":16,"t":0.87,"m":0.261,"b":0.261},{"p":16,"t":1.04,"m":0.27,"b":0.27},{"p":16,"t":1.19,"m":0.226,"b":0.226},{"p":16,"t":1.38,"m":0.25,"b":0.25},{"p":16,"t":1.52,"m":0.261,"b":0.261},{"p":16,"t":1.67,"m":0.25,"b":0.25},{"p":16,"t":1.86,"m":0.238,"b":0.238},{"p":16,"t":2.05,"m":0.226,"b":0.226},{"p":16,"t":2.21,"m":0.207,"b":0.207},{"p":16,"t":2.36,"m":0.215,"b":0.215},{"p":16,"t":2.62,"m":0.207,"b":0.207},{"p":16,"t":2.81,"m":0.186,"b":0.186},{"p":16,"t":3.0,"m":0.18,"b":0.18},{"p":16,"t":3.19,"m":0.165,"b":0.165},{"p":16,"t":3.38,"m":0.162,"b":0.162},{"p":16,"t":3.57,"m":0.151,"b":0.151},{"p":16,"t":3.75,"m":0.121,"b":0.121},{"p":16,"t":3.94,"m":0.141,"b":0.141},{"p":16,"t":4.2,"m":0.137,"b":0.137},{"p":16,"t":4.45,"m":0.133,"b":0.133},{"p":16,"t":4.7,"m":0.13,"b":0.13},{"p":16,"t":4.96,"m":0.106,"b":0.106},{"p":16,"t":5.14,"m":0.104,"b":0.104},{"p":16,"t":5.4,"m":0.11,"b":0.11},{"p":16,"t":5.65,"m":0.11,"b":0.11},{"p":16,"t":5.84,"m":0.113,"b":0.113},{"p":16,"t":6.03,"m":0.104,"b":0.104},{"p":16,"t":6.22,"m":0.107,"b":0.107},{"p":16,"t":6.47,"m":0.098,"b":0.098},{"p":16,"t":6.73,"m":0.098,"b":0.098},{"p":16,"t":6.98,"m":0.095,"b":0.095},{"p":16,"t":7.23,"m":0.097,"b":0.097},{"p":16,"t":7.48,"m":0.104,"b":0.104},{"p":16,"t":7.74,"m":0.098,"b":0.098},{"p":16,"t":7.99,"m":0.102,"b":0.102},{"p":16,"t":8.18,"m":0.095,"b":0.095},{"p":16,"t":8.37,"m":0.104,"b":0.104},{"p":16,"t":8.53,"m":0.116,"b":0.116},{"p":16,"t":8.69,"m":0.102,"b":0.102},{"p":16,"t":8.88,"m":0.107,"b":0.107},{"p":16,"t":9.04,"m":0.113,"b":0.113},
{"p":16,"t":0,"g":2.0},{"p":16,"t":0.4,"g":1.385},{"p":16,"t":0.53,"g":1.19},{"p":16,"t":0.72,"g":0.848},{"p":16,"t":0.91,"g":0.545},{"p":16,"t":1.07,"g":0.383},{"p":16,"t":1.23,"g":0.312},{"p":16,"t":1.35,"g":0.383},{"p":16,"t":1.54,"g":0.585},{"p":16,"t":1.73,"g":0.747},{"p":16,"t":1.93,"g":0.838},{"p":16,"t":2.11,"g":0.879},{"p":16,"t":2.3,"g":0.858},{"p":16,"t":2.49,"g":0.808},{"p":16,"t":2.74,"g":0.686},{"p":16,"t":3.0,"g":0.524},{"p":16,"t":3.25,"g":0.302},{"p":16,"t":3.48,"g":0.16},{"p":16,"t":3.63,"g":0.261},{"p":16,"t":3.82,"g":0.443},{"p":16,"t":4.01,"g":0.524},{"p":16,"t":4.24,"g":0.549},{"p":16,"t":4.45,"g":0.504},{"p":16,"t":4.7,"g":0.342},{"p":16,"t":5.02,"g":0.099},{"p":16,"t":5.21,"g":0.221},{"p":16,"t":5.46,"g":0.362},{"p":16,"t":5.71,"g":0.433},{"p":16,"t":5.97,"g":0.403},{"p":16,"t":6.22,"g":0.302},{"p":16,"t":6.47,"g":0.17},{"p":16,"t":6.66,"g":0.18},{"p":16,"t":6.92,"g":0.322},{"p":16,"t":7.17,"g":0.393},{"p":16,"t":7.42,"g":0.403},{"p":16,"t":7.67,"g":0.352},{"p":16,"t":7.93,"g":0.241},{"p":16,"t":8.18,"g":0.089},{"p":16,"t":8.37,"g":0.2},{"p":16,"t":8.56,"g":0.322},{"p":16,"t":8.81,"g":0.362},{"p":16,"t":9.04,"g":0.338},
{"p":17,"t":0.04,"m":0.536,"b":0.536},{"p":17,"t":0.16,"m":0.5,"b":0.5},{"p":17,"t":0.29,"m":0.466,"b":0.466},{"p":17,"t":0.42,"m":0.489,"b":0.489},{"p":17,"t":0.58,"m":0.46,"b":0.46},{"p":17,"t":0.7,"m":0.407,"b":0.407},{"p":17,"t":0.8,"m":0.337,"b":0.337},{"p":17,"t":0.9,"m":0.232,"b":0.232},{"p":17,"t":1.02,"m":0.267,"b":0.267},{"p":17,"t":1.18,"m":0.308,"b":0.308},{"p":17,"t":1.3,"m":0.273,"b":0.273},{"p":17,"t":1.49,"m":0.267,"b":0.267},{"p":17,"t":1.68,"m":0.258,"b":0.258},{"p":17,"t":1.93,"m":0.258,"b":0.258},{"p":17,"t":2.19,"m":0.25,"b":0.25},{"p":17,"t":2.38,"m":0.226,"b":0.226},{"p":17,"t":2.63,"m":0.215,"b":0.215},{"p":17,"t":2.88,"m":0.191,"b":0.191},{"p":17,"t":3.0,"m":0.168,"b":0.168},{"p":17,"t":3.2,"m":0.133,"b":0.133},{"p":17,"t":3.39,"m":0.16,"b":0.16},{"p":17,"t":3.64,"m":0.151,"b":0.151},{"p":17,"t":3.9,"m":0.139,"b":0.139},{"p":17,"t":4.15,"m":0.133,"b":0.133},{"p":17,"t":4.4,"m":0.121,"b":0.121},{"p":17,"t":4.59,"m":0.11,"b":0.11},{"p":17,"t":4.78,"m":0.116,"b":0.116},{"p":17,"t":5.03,"m":0.121,"b":0.121},{"p":17,"t":5.22,"m":0.116,"b":0.116},{"p":17,"t":5.41,"m":0.106,"b":0.106},{"p":17,"t":5.6,"m":0.116,"b":0.116},{"p":17,"t":5.79,"m":0.106,"b":0.106},{"p":17,"t":5.98,"m":0.098,"b":0.098},{"p":17,"t":6.17,"m":0.086,"b":0.086},{"p":17,"t":6.36,"m":0.09,"b":0.09},{"p":17,"t":6.61,"m":0.098,"b":0.098},{"p":17,"t":6.8,"m":0.104,"b":0.104},{"p":17,"t":6.99,"m":0.092,"b":0.092},{"p":17,"t":7.24,"m":0.095,"b":0.095},{"p":17,"t":7.43,"m":0.104,"b":0.104},{"p":17,"t":7.69,"m":0.081,"b":0.081},{"p":17,"t":7.88,"m":0.086,"b":0.086},{"p":17,"t":8.13,"m":0.086,"b":0.086},{"p":17,"t":8.38,"m":0.092,"b":0.092},{"p":17,"t":8.64,"m":0.092,"b":0.092},{"p":17,"t":8.89,"m":0.086,"b":0.086},{"p":17,"t":9.14,"m":0.092,"b":0.092},{"p":17,"t":9.39,"m":0.098,"b":0.098},{"p":17,"t":9.65,"m":0.098,"b":0.098},{"p":17,"t":9.87,"m":0.092,"b":0.092},
{"p":17,"t":0,"g":1.9},{"p":17,"t":0.23,"g":1.385},{"p":17,"t":0.35,"g":1.15},{"p":17,"t":0.52,"g":0.828},{"p":17,"t":0.67,"g":0.484},{"p":17,"t":0.8,"g":0.261},{"p":17,"t":0.9,"g":0.16},{"p":17,"t":1.02,"g":0.342},{"p":17,"t":1.18,"g":0.605},{"p":17,"t":1.37,"g":0.828},{"p":17,"t":1.55,"g":0.99},{"p":17,"t":1.81,"g":1.066},{"p":17,"t":2.06,"g":1.046},{"p":17,"t":2.25,"g":0.97},{"p":17,"t":2.5,"g":0.787},{"p":17,"t":2.76,"g":0.524},{"p":17,"t":2.95,"g":0.221},{"p":17,"t":3.1,"g":0.034},{"p":17,"t":3.26,"g":0.2},{"p":17,"t":3.45,"g":0.423},{"p":17,"t":3.7,"g":0.575},{"p":17,"t":3.9,"g":0.595},{"p":17,"t":4.08,"g":0.565},{"p":17,"t":4.34,"g":0.423},{"p":17,"t":4.53,"g":0.241},{"p":17,"t":4.7,"g":0.079},{"p":17,"t":4.85,"g":0.221},{"p":17,"t":5.09,"g":0.403},{"p":17,"t":5.35,"g":0.494},{"p":17,"t":5.6,"g":0.484},{"p":17,"t":5.85,"g":0.383},{"p":17,"t":6.11,"g":0.241},{"p":17,"t":6.3,"g":0.13},{"p":17,"t":6.48,"g":0.241},{"p":17,"t":6.74,"g":0.423},{"p":17,"t":6.99,"g":0.453},{"p":17,"t":7.24,"g":0.403},{"p":17,"t":7.5,"g":0.281},{"p":17,"t":7.69,"g":0.17},{"p":17,"t":7.88,"g":0.14},{"p":17,"t":8.07,"g":0.261},{"p":17,"t":8.32,"g":0.372},{"p":17,"t":8.58,"g":0.362},{"p":17,"t":8.83,"g":0.261},{"p":17,"t":9.08,"g":0.069},{"p":17,"t":9.27,"g":0.18},{"p":17,"t":9.52,"g":0.322},{"p":17,"t":9.77,"g":0.342},
{"p":18,"t":0,"m":0.53,"b":0.53},{"p":18,"t":0.11,"m":0.51,"b":0.51},{"p":18,"t":0.24,"m":0.565,"b":0.565},{"p":18,"t":0.44,"m":0.576,"b":0.576},{"p":18,"t":0.57,"m":0.471,"b":0.471},{"p":18,"t":0.66,"m":0.5,"b":0.5},{"p":18,"t":0.78,"m":0.536,"b":0.536},{"p":18,"t":0.91,"m":0.524,"b":0.524},{"p":18,"t":1.04,"m":0.541,"b":0.541},{"p":18,"t":1.14,"m":0.407,"b":0.407},{"p":18,"t":1.23,"m":0.256,"b":0.256},{"p":18,"t":1.38,"m":0.302,"b":0.302},{"p":18,"t":1.54,"m":0.349,"b":0.349},{"p":18,"t":1.67,"m":0.477,"b":0.477},{"p":18,"t":1.83,"m":0.495,"b":0.495},{"p":18,"t":1.99,"m":0.53,"b":0.53},{"p":18,"t":2.14,"m":0.506,"b":0.506},{"p":18,"t":2.3,"m":0.448,"b":0.448},{"p":18,"t":2.47,"m":0.407,"b":0.407},{"p":18,"t":2.62,"m":0.442,"b":0.442},{"p":18,"t":2.81,"m":0.419,"b":0.419},{"p":18,"t":3.0,"m":0.372,"b":0.372},{"p":18,"t":3.12,"m":0.291,"b":0.291},{"p":18,"t":3.22,"m":0.191,"b":0.191},{"p":18,"t":3.31,"m":0.139,"b":0.139},{"p":18,"t":3.44,"m":0.314,"b":0.314},{"p":18,"t":3.63,"m":0.302,"b":0.302},{"p":18,"t":3.75,"m":0.355,"b":0.355},{"p":18,"t":3.91,"m":0.326,"b":0.326},{"p":18,"t":4.07,"m":0.302,"b":0.302},{"p":18,"t":4.26,"m":0.256,"b":0.256},{"p":18,"t":4.45,"m":0.246,"b":0.246},{"p":18,"t":4.64,"m":0.197,"b":0.197},{"p":18,"t":4.79,"m":0.139,"b":0.139},{"p":18,"t":4.96,"m":0.081,"b":0.081},{"p":18,"t":5.14,"m":0.116,"b":0.116},{"p":18,"t":5.27,"m":0.145,"b":0.145},{"p":18,"t":5.4,"m":0.104,"b":0.104},{"p":18,"t":5.59,"m":0.156,"b":0.156},{"p":18,"t":5.78,"m":0.145,"b":0.145},{"p":18,"t":6.03,"m":0.133,"b":0.133},{"p":18,"t":6.22,"m":0.116,"b":0.116},{"p":18,"t":6.47,"m":0.092,"b":0.092},{"p":18,"t":6.66,"m":0.075,"b":0.075},{"p":18,"t":6.85,"m":0.104,"b":0.104},{"p":18,"t":7.04,"m":0.121,"b":0.121},{"p":18,"t":7.36,"m":0.13,"b":0.13},{"p":18,"t":7.55,"m":0.121,"b":0.121},{"p":18,"t":7.74,"m":0.098,"b":0.098},{"p":18,"t":7.99,"m":0.081,"b":0.081},{"p":18,"t":8.18,"m":0.063,"b":0.063},{"p":18,"t":8.41,"m":0.086,"b":0.086},{"p":18,"t":8.62,"m":0.069,"b":0.069},{"p":18,"t":8.81,"m":0.104,"b":0.104},{"p":18,"t":9.0,"m":0.086,"b":0.086},
{"p":18,"t":0,"g":1.9},{"p":18,"t":0.47,"g":1.385},{"p":18,"t":0.66,"g":1.19},{"p":18,"t":0.85,"g":0.868},{"p":18,"t":1.04,"g":0.504},{"p":18,"t":1.2,"g":0.221},{"p":18,"t":1.33,"g":0.18},{"p":18,"t":1.48,"g":0.383},{"p":18,"t":1.67,"g":0.605},{"p":18,"t":1.93,"g":0.747},{"p":18,"t":2.18,"g":0.828},{"p":18,"t":2.43,"g":0.808},{"p":18,"t":2.68,"g":0.727},{"p":18,"t":2.93,"g":0.545},{"p":18,"t":3.12,"g":0.302},{"p":18,"t":3.28,"g":0.099},{"p":18,"t":3.44,"g":0.322},{"p":18,"t":3.69,"g":0.545},{"p":18,"t":3.94,"g":0.636},{"p":18,"t":4.19,"g":0.625},{"p":18,"t":4.45,"g":0.524},{"p":18,"t":4.7,"g":0.322},{"p":18,"t":4.92,"g":0.049},{"p":18,"t":5.08,"g":0.2},{"p":18,"t":5.34,"g":0.403},{"p":18,"t":5.59,"g":0.494},{"p":18,"t":5.78,"g":0.504},{"p":18,"t":6.03,"g":0.443},{"p":18,"t":6.28,"g":0.302},{"p":18,"t":6.54,"g":0.16},{"p":18,"t":6.73,"g":0.2},{"p":18,"t":6.98,"g":0.403},{"p":18,"t":7.23,"g":0.504},{"p":18,"t":7.48,"g":0.504},{"p":18,"t":7.74,"g":0.403},{"p":18,"t":7.99,"g":0.221},{"p":18,"t":8.24,"g":0.099},{"p":18,"t":8.43,"g":0.2},{"p":18,"t":8.69,"g":0.383},{"p":18,"t":9.04,"g":0.504},
{"p":19,"t":0.04,"m":0.46,"b":0.46},{"p":19,"t":0.1,"m":0.349,"b":0.349},{"p":19,"t":0.19,"m":0.221,"b":0.221},{"p":19,"t":0.32,"m":0.209,"b":0.209},{"p":19,"t":0.44,"m":0.162,"b":0.162},{"p":19,"t":0.61,"m":0.226,"b":0.226},{"p":19,"t":0.73,"m":0.384,"b":0.384},{"p":19,"t":0.86,"m":0.378,"b":0.378},{"p":19,"t":1.02,"m":0.256,"b":0.256},{"p":19,"t":1.15,"m":0.413,"b":0.413},{"p":19,"t":1.37,"m":0.425,"b":0.425},{"p":19,"t":1.55,"m":0.433,"b":0.433},{"p":19,"t":1.78,"m":0.425,"b":0.425},{"p":19,"t":2.06,"m":0.422,"b":0.422},{"p":19,"t":2.21,"m":0.396,"b":0.396},{"p":19,"t":2.38,"m":0.407,"b":0.407},{"p":19,"t":2.57,"m":0.378,"b":0.378},{"p":19,"t":2.76,"m":0.355,"b":0.355},{"p":19,"t":2.88,"m":0.267,"b":0.267},{"p":19,"t":3.01,"m":0.343,"b":0.343},{"p":19,"t":3.2,"m":0.355,"b":0.355},{"p":19,"t":3.39,"m":0.366,"b":0.366},{"p":19,"t":3.64,"m":0.366,"b":0.366},{"p":19,"t":3.83,"m":0.355,"b":0.355},{"p":19,"t":4.02,"m":0.32,"b":0.32},{"p":19,"t":4.19,"m":0.244,"b":0.244},{"p":19,"t":4.31,"m":0.197,"b":0.197},{"p":19,"t":4.46,"m":0.256,"b":0.256},{"p":19,"t":4.65,"m":0.279,"b":0.279},{"p":19,"t":4.84,"m":0.291,"b":0.291},{"p":19,"t":5.03,"m":0.305,"b":0.305},{"p":19,"t":5.2,"m":0.285,"b":0.285},{"p":19,"t":5.35,"m":0.291,"b":0.291},{"p":19,"t":5.54,"m":0.261,"b":0.261},{"p":19,"t":5.79,"m":0.232,"b":0.232},{"p":19,"t":6.0,"m":0.162,"b":0.162},{"p":19,"t":6.21,"m":0.221,"b":0.221},{"p":19,"t":6.36,"m":0.25,"b":0.25},{"p":19,"t":6.55,"m":0.244,"b":0.244},{"p":19,"t":6.74,"m":0.232,"b":0.232},{"p":19,"t":6.93,"m":0.244,"b":0.244},{"p":19,"t":7.12,"m":0.209,"b":0.209},{"p":19,"t":7.28,"m":0.133,"b":0.133},{"p":19,"t":7.47,"m":0.162,"b":0.162},{"p":19,"t":7.69,"m":0.197,"b":0.197},{"p":19,"t":7.88,"m":0.226,"b":0.226},{"p":19,"t":8.07,"m":0.238,"b":0.238},{"p":19,"t":8.32,"m":0.221,"b":0.221},{"p":19,"t":8.51,"m":0.186,"b":0.186},{"p":19,"t":8.7,"m":0.133,"b":0.133},{"p":19,"t":8.89,"m":0.104,"b":0.104},{"p":19,"t":9.08,"m":0.145,"b":0.145},{"p":19,"t":9.27,"m":0.191,"b":0.191},{"p":19,"t":9.46,"m":0.186,"b":0.186},{"p":19,"t":9.65,"m":0.168,"b":0.168},{"p":19,"t":9.87,"m":0.151,"b":0.151},
{"p":19,"t":0,"g":2.9},{"p":19,"t":0.61,"g":1.385},{"p":19,"t":0.77,"g":0.99},{"p":19,"t":0.9,"g":0.585},{"p":19,"t":1.02,"g":0.271},{"p":19,"t":1.15,"g":0.524},{"p":19,"t":1.3,"g":0.889},{"p":19,"t":1.49,"g":1.152},{"p":19,"t":1.74,"g":1.213},{"p":19,"t":1.93,"g":1.249},{"p":19,"t":2.12,"g":1.193},{"p":19,"t":2.28,"g":0.99},{"p":19,"t":2.44,"g":0.747},{"p":19,"t":2.6,"g":0.484},{"p":19,"t":2.76,"g":0.241},{"p":19,"t":2.88,"g":0.119},{"p":19,"t":3.01,"g":0.362},{"p":19,"t":3.2,"g":0.666},{"p":19,"t":3.39,"g":0.787},{"p":19,"t":3.58,"g":0.727},{"p":19,"t":3.77,"g":0.545},{"p":19,"t":3.96,"g":0.362},{"p":19,"t":4.15,"g":0.241},{"p":19,"t":4.34,"g":0.261},{"p":19,"t":4.59,"g":0.484},{"p":19,"t":4.9,"g":0.615},{"p":19,"t":5.16,"g":0.605},{"p":19,"t":5.41,"g":0.484},{"p":19,"t":5.66,"g":0.322},{"p":19,"t":5.92,"g":0.16},{"p":19,"t":6.11,"g":0.221},{"p":19,"t":6.36,"g":0.423},{"p":19,"t":6.62,"g":0.453},{"p":19,"t":6.87,"g":0.383},{"p":19,"t":7.12,"g":0.241},{"p":19,"t":7.31,"g":0.119},{"p":19,"t":7.56,"g":0.241},{"p":19,"t":7.81,"g":0.443},{"p":19,"t":8.07,"g":0.443},{"p":19,"t":8.32,"g":0.342},{"p":19,"t":8.58,"g":0.18},{"p":19,"t":8.76,"g":0.109},{"p":19,"t":9.01,"g":0.271},{"p":19,"t":9.27,"g":0.393},{"p":19,"t":9.52,"g":0.362},{"p":19,"t":9.77,"g":0.221}
]
},
"data": {"name": "d"},
"columns": 4,
"spacing": 0,
"bounds": "flush",
"concat": [
{"width":294,"height":229,"resolve":{"scale":{"y":"independent"}},"layer":[
{"data":{"name":"panels"},"transform":[{"filter":"datum.p==0"}],"mark":{"type":"rule","color":"#708090","strokeDash":[1,2.5],"strokeWidth":1},"encoding":{"y":{"datum":0.5764,"type":"quantitative","scale":{"domain":[0,0.8]},"axis":null}}},
{"data":{"name":"panels"},"transform":[{"filter":"datum.p==0"}],"mark":{"type":"rule","color":"#b000b0","strokeDash":[5,11],"strokeWidth":1.3},"encoding":{"y":{"datum":0.4,"type":"quantitative","scale":{"domain":[0,0.8]},"axis":null}}},
{"data":{"name":"panels"},"transform":[{"filter":"datum.p==0"}],"mark":{"type":"rule","color":"#2020ff","strokeDash":[5,11],"strokeDashOffset":8,"strokeWidth":1.3},"encoding":{"y":{"datum":0.4,"type":"quantitative","scale":{"domain":[0,0.8]},"axis":null}}},
{"transform":[{"filter":"datum.p==0 && isValid(datum.m)"}],"mark":{"type":"line","color":"#800080","strokeWidth":2,"clip":true},"encoding":{"x":{"field":"t","type":"quantitative","scale":{"domain":[0,9.95],"nice":false,"zero":false},"axis":null},"y":{"field":"m","type":"quantitative","scale":{"domain":[0,0.8],"nice":false},"axis":{"orient":"left","title":"fε, SUBFIND","titleColor":"#800080","titleFontSize":16,"values":[0,0.1,0.2,0.3,0.4,0.5,0.6,0.7,0.8],"format":".1f","labelFontSize":13,"labelPadding":5,"titlePadding":9}}}},
{"transform":[{"filter":"datum.p==0 && isValid(datum.b)"}],"mark":{"type":"line","color":"#0000cd","strokeWidth":3.2,"strokeDash":[11,5],"clip":true},"encoding":{"x":{"field":"t","type":"quantitative","scale":{"domain":[0,9.95],"nice":false,"zero":false},"axis":null},"y":{"field":"b","type":"quantitative","scale":{"domain":[0,0.8],"nice":false},"axis":{"orient":"left","title":"fε, ALL AT ACC.","titleColor":"#0000cd","titleFontSize":16,"labels":false,"ticks":false,"domain":false,"titlePadding":72}}}},
{"transform":[{"filter":"datum.p==0 && isValid(datum.g)"}],"mark":{"type":"line","color":"#708090","opacity":0.45,"strokeWidth":3.6,"clip":true},"encoding":{"x":{"field":"t","type":"quantitative","scale":{"domain":[0,9.95],"nice":false,"zero":false},"axis":null},"y":{"field":"g","type":"quantitative","scale":{"domain":[0,1.388],"nice":false},"axis":null}}},
{"data":{"name":"panels"},"transform":[{"filter":"datum.p==0"}],"mark":{"type":"text","align":"right","baseline":"middle","fontSize":16},"encoding":{"x":{"datum":9.45,"type":"quantitative","axis":null},"y":{"datum":0.734,"type":"quantitative","scale":{"domain":[0,0.8]},"axis":null},"text":{"field":"l1"}}},
{"data":{"name":"panels"},"transform":[{"filter":"datum.p==0"}],"mark":{"type":"text","align":"right","baseline":"middle","fontSize":16},"encoding":{"x":{"datum":9.45,"type":"quantitative","axis":null},"y":{"datum":0.657,"type":"quantitative","scale":{"domain":[0,0.8]},"axis":null},"text":{"field":"l2"}}}
]},
{"width":294,"height":229,"resolve":{"scale":{"y":"independent"}},"layer":[
{"data":{"name":"panels"},"transform":[{"filter":"datum.p==1"}],"mark":{"type":"rule","color":"#708090","strokeDash":[1,2.5],"strokeWidth":1},"encoding":{"y":{"datum":0.5764,"type":"quantitative","scale":{"domain":[0,0.8]},"axis":null}}},
{"data":{"name":"panels"},"transform":[{"filter":"datum.p==1"}],"mark":{"type":"rule","color":"#b000b0","strokeDash":[5,11],"strokeWidth":1.3},"encoding":{"y":{"datum":0.4,"type":"quantitative","scale":{"domain":[0,0.8]},"axis":null}}},
{"data":{"name":"panels"},"transform":[{"filter":"datum.p==1"}],"mark":{"type":"rule","color":"#2020ff","strokeDash":[5,11],"strokeDashOffset":8,"strokeWidth":1.3},"encoding":{"y":{"datum":0.4,"type":"quantitative","scale":{"domain":[0,0.8]},"axis":null}}},
{"transform":[{"filter":"datum.p==1 && isValid(datum.m)"}],"mark":{"type":"line","color":"#800080","strokeWidth":2,"clip":true},"encoding":{"x":{"field":"t","type":"quantitative","scale":{"domain":[0,9.95],"nice":false,"zero":false},"axis":null},"y":{"field":"m","type":"quantitative","scale":{"domain":[0,0.8],"nice":false},"axis":{"orient":"left","title":null,"labels":false,"domain":false,"values":[0.1,0.2,0.3,0.5,0.6,0.7]}}}},
{"transform":[{"filter":"datum.p==1 && isValid(datum.b)"}],"mark":{"type":"line","color":"#0000cd","strokeWidth":3.2,"strokeDash":[11,5],"clip":true},"encoding":{"x":{"field":"t","type":"quantitative","scale":{"domain":[0,9.95],"nice":false,"zero":false},"axis":null},"y":{"field":"b","type":"quantitative","scale":{"domain":[0,0.8],"nice":false},"axis":null}}},
{"transform":[{"filter":"datum.p==1 && isValid(datum.g)"}],"mark":{"type":"line","color":"#708090","opacity":0.45,"strokeWidth":3.6,"clip":true},"encoding":{"x":{"field":"t","type":"quantitative","scale":{"domain":[0,9.95],"nice":false,"zero":false},"axis":null},"y":{"field":"g","type":"quantitative","scale":{"domain":[0,1.388],"nice":false},"axis":null}}},
{"data":{"name":"panels"},"transform":[{"filter":"datum.p==1"}],"mark":{"type":"text","align":"right","baseline":"middle","fontSize":16},"encoding":{"x":{"datum":9.45,"type":"quantitative","axis":null},"y":{"datum":0.734,"type":"quantitative","scale":{"domain":[0,0.8]},"axis":null},"text":{"field":"l1"}}},
{"data":{"name":"panels"},"transform":[{"filter":"datum.p==1"}],"mark":{"type":"text","align":"right","baseline":"middle","fontSize":16},"encoding":{"x":{"datum":9.45,"type":"quantitative","axis":null},"y":{"datum":0.657,"type":"quantitative","scale":{"domain":[0,0.8]},"axis":null},"text":{"field":"l2"}}}
]},
{"width":294,"height":229,"resolve":{"scale":{"y":"independent"}},"layer":[
{"data":{"name":"panels"},"transform":[{"filter":"datum.p==2"}],"mark":{"type":"rule","color":"#708090","strokeDash":[1,2.5],"strokeWidth":1},"encoding":{"y":{"datum":0.5764,"type":"quantitative","scale":{"domain":[0,0.8]},"axis":null}}},
{"data":{"name":"panels"},"transform":[{"filter":"datum.p==2"}],"mark":{"type":"rule","color":"#b000b0","strokeDash":[5,11],"strokeWidth":1.3},"encoding":{"y":{"datum":0.4,"type":"quantitative","scale":{"domain":[0,0.8]},"axis":null}}},
{"data":{"name":"panels"},"transform":[{"filter":"datum.p==2"}],"mark":{"type":"rule","color":"#2020ff","strokeDash":[5,11],"strokeDashOffset":8,"strokeWidth":1.3},"encoding":{"y":{"datum":0.4,"type":"quantitative","scale":{"domain":[0,0.8]},"axis":null}}},
{"transform":[{"filter":"datum.p==2 && isValid(datum.m)"}],"mark":{"type":"line","color":"#800080","strokeWidth":2,"clip":true},"encoding":{"x":{"field":"t","type":"quantitative","scale":{"domain":[0,9.95],"nice":false,"zero":false},"axis":null},"y":{"field":"m","type":"quantitative","scale":{"domain":[0,0.8],"nice":false},"axis":{"orient":"left","title":null,"labels":false,"domain":false,"values":[0.1,0.2,0.3,0.5,0.6,0.7]}}}},
{"transform":[{"filter":"datum.p==2 && isValid(datum.b)"}],"mark":{"type":"line","color":"#0000cd","strokeWidth":3.2,"strokeDash":[11,5],"clip":true},"encoding":{"x":{"field":"t","type":"quantitative","scale":{"domain":[0,9.95],"nice":false,"zero":false},"axis":null},"y":{"field":"b","type":"quantitative","scale":{"domain":[0,0.8],"nice":false},"axis":null}}},
{"transform":[{"filter":"datum.p==2 && isValid(datum.g)"}],"mark":{"type":"line","color":"#708090","opacity":0.45,"strokeWidth":3.6,"clip":true},"encoding":{"x":{"field":"t","type":"quantitative","scale":{"domain":[0,9.95],"nice":false,"zero":false},"axis":null},"y":{"field":"g","type":"quantitative","scale":{"domain":[0,1.388],"nice":false},"axis":null}}},
{"data":{"name":"panels"},"transform":[{"filter":"datum.p==2"}],"mark":{"type":"text","align":"right","baseline":"middle","fontSize":16},"encoding":{"x":{"datum":9.45,"type":"quantitative","axis":null},"y":{"datum":0.734,"type":"quantitative","scale":{"domain":[0,0.8]},"axis":null},"text":{"field":"l1"}}},
{"data":{"name":"panels"},"transform":[{"filter":"datum.p==2"}],"mark":{"type":"text","align":"right","baseline":"middle","fontSize":16},"encoding":{"x":{"datum":9.45,"type":"quantitative","axis":null},"y":{"datum":0.657,"type":"quantitative","scale":{"domain":[0,0.8]},"axis":null},"text":{"field":"l2"}}}
]},
{"width":294,"height":229,"resolve":{"scale":{"y":"independent"}},"layer":[
{"data":{"name":"panels"},"transform":[{"filter":"datum.p==3"}],"mark":{"type":"rule","color":"#708090","strokeDash":[1,2.5],"strokeWidth":1},"encoding":{"y":{"datum":0.5764,"type":"quantitative","scale":{"domain":[0,0.8]},"axis":null}}},
{"data":{"name":"panels"},"transform":[{"filter":"datum.p==3"}],"mark":{"type":"rule","color":"#b000b0","strokeDash":[5,11],"strokeWidth":1.3},"encoding":{"y":{"datum":0.4,"type":"quantitative","scale":{"domain":[0,0.8]},"axis":null}}},
{"data":{"name":"panels"},"transform":[{"filter":"datum.p==3"}],"mark":{"type":"rule","color":"#2020ff","strokeDash":[5,11],"strokeDashOffset":8,"strokeWidth":1.3},"encoding":{"y":{"datum":0.4,"type":"quantitative","scale":{"domain":[0,0.8]},"axis":null}}},
{"transform":[{"filter":"datum.p==3 && isValid(datum.m)"}],"mark":{"type":"line","color":"#800080","strokeWidth":2,"clip":true},"encoding":{"x":{"field":"t","type":"quantitative","scale":{"domain":[0,9.95],"nice":false,"zero":false},"axis":null},"y":{"field":"m","type":"quantitative","scale":{"domain":[0,0.8],"nice":false},"axis":{"orient":"left","title":null,"labels":false,"domain":false,"values":[0.1,0.2,0.3,0.5,0.6,0.7]}}}},
{"transform":[{"filter":"datum.p==3 && isValid(datum.b)"}],"mark":{"type":"line","color":"#0000cd","strokeWidth":3.2,"strokeDash":[11,5],"clip":true},"encoding":{"x":{"field":"t","type":"quantitative","scale":{"domain":[0,9.95],"nice":false,"zero":false},"axis":null},"y":{"field":"b","type":"quantitative","scale":{"domain":[0,0.8],"nice":false},"axis":null}}},
{"transform":[{"filter":"datum.p==3 && isValid(datum.g)"}],"mark":{"type":"line","color":"#708090","opacity":0.45,"strokeWidth":3.6,"clip":true},"encoding":{"x":{"field":"t","type":"quantitative","scale":{"domain":[0,9.95],"nice":false,"zero":false},"axis":null},"y":{"field":"g","type":"quantitative","scale":{"domain":[0,1.388],"nice":false},"axis":{"orient":"right","title":"d/r₂₀₀c","titleColor":"#8a96a3","titleFontSize":20,"titleAngle":270,"titleBaseline":"top","values":[0,0.2,0.4,0.6,0.8,1.0,1.2],"format":".1f","labelFontSize":13,"labelPadding":5,"titlePadding":6}}}},
{"data":{"name":"panels"},"transform":[{"filter":"datum.p==3"}],"mark":{"type":"text","align":"right","baseline":"middle","fontSize":16},"encoding":{"x":{"datum":9.45,"type":"quantitative","axis":null},"y":{"datum":0.734,"type":"quantitative","scale":{"domain":[0,0.8]},"axis":null},"text":{"field":"l1"}}},
{"data":{"name":"panels"},"transform":[{"filter":"datum.p==3"}],"mark":{"type":"text","align":"right","baseline":"middle","fontSize":16},"encoding":{"x":{"datum":9.45,"type":"quantitative","axis":null},"y":{"datum":0.657,"type":"quantitative","scale":{"domain":[0,0.8]},"axis":null},"text":{"field":"l2"}}}
]},
{"width":294,"height":229,"resolve":{"scale":{"y":"independent"}},"layer":[
{"data":{"name":"panels"},"transform":[{"filter":"datum.p==4"}],"mark":{"type":"rule","color":"#708090","strokeDash":[1,2.5],"strokeWidth":1},"encoding":{"y":{"datum":0.5764,"type":"quantitative","scale":{"domain":[0,0.8]},"axis":null}}},
{"data":{"name":"panels"},"transform":[{"filter":"datum.p==4"}],"mark":{"type":"rule","color":"#b000b0","strokeDash":[5,11],"strokeWidth":1.3},"encoding":{"y":{"datum":0.4,"type":"quantitative","scale":{"domain":[0,0.8]},"axis":null}}},
{"data":{"name":"panels"},"transform":[{"filter":"datum.p==4"}],"mark":{"type":"rule","color":"#2020ff","strokeDash":[5,11],"strokeDashOffset":8,"strokeWidth":1.3},"encoding":{"y":{"datum":0.4,"type":"quantitative","scale":{"domain":[0,0.8]},"axis":null}}},
{"transform":[{"filter":"datum.p==4 && isValid(datum.m)"}],"mark":{"type":"line","color":"#800080","strokeWidth":2,"clip":true},"encoding":{"x":{"field":"t","type":"quantitative","scale":{"domain":[0,9.95],"nice":false,"zero":false},"axis":null},"y":{"field":"m","type":"quantitative","scale":{"domain":[0,0.8],"nice":false},"axis":{"orient":"left","title":"fε, SUBFIND","titleColor":"#800080","titleFontSize":16,"values":[0,0.1,0.2,0.3,0.4,0.5,0.6,0.7,0.8],"format":".1f","labelFontSize":13,"labelPadding":5,"titlePadding":9}}}},
{"transform":[{"filter":"datum.p==4 && isValid(datum.b)"}],"mark":{"type":"line","color":"#0000cd","strokeWidth":3.2,"strokeDash":[11,5],"clip":true},"encoding":{"x":{"field":"t","type":"quantitative","scale":{"domain":[0,9.95],"nice":false,"zero":false},"axis":null},"y":{"field":"b","type":"quantitative","scale":{"domain":[0,0.8],"nice":false},"axis":{"orient":"left","title":"fε, ALL AT ACC.","titleColor":"#0000cd","titleFontSize":16,"labels":false,"ticks":false,"domain":false,"titlePadding":72}}}},
{"transform":[{"filter":"datum.p==4 && isValid(datum.g)"}],"mark":{"type":"line","color":"#708090","opacity":0.45,"strokeWidth":3.6,"clip":true},"encoding":{"x":{"field":"t","type":"quantitative","scale":{"domain":[0,9.95],"nice":false,"zero":false},"axis":null},"y":{"field":"g","type":"quantitative","scale":{"domain":[0,1.388],"nice":false},"axis":null}}},
{"data":{"name":"panels"},"transform":[{"filter":"datum.p==4"}],"mark":{"type":"text","align":"right","baseline":"middle","fontSize":16},"encoding":{"x":{"datum":9.45,"type":"quantitative","axis":null},"y":{"datum":0.734,"type":"quantitative","scale":{"domain":[0,0.8]},"axis":null},"text":{"field":"l1"}}},
{"data":{"name":"panels"},"transform":[{"filter":"datum.p==4"}],"mark":{"type":"text","align":"right","baseline":"middle","fontSize":16},"encoding":{"x":{"datum":9.45,"type":"quantitative","axis":null},"y":{"datum":0.657,"type":"quantitative","scale":{"domain":[0,0.8]},"axis":null},"text":{"field":"l2"}}}
]},
{"width":294,"height":229,"resolve":{"scale":{"y":"independent"}},"layer":[
{"data":{"name":"panels"},"transform":[{"filter":"datum.p==5"}],"mark":{"type":"rule","color":"#708090","strokeDash":[1,2.5],"strokeWidth":1},"encoding":{"y":{"datum":0.5764,"type":"quantitative","scale":{"domain":[0,0.8]},"axis":null}}},
{"data":{"name":"panels"},"transform":[{"filter":"datum.p==5"}],"mark":{"type":"rule","color":"#b000b0","strokeDash":[5,11],"strokeWidth":1.3},"encoding":{"y":{"datum":0.4,"type":"quantitative","scale":{"domain":[0,0.8]},"axis":null}}},
{"data":{"name":"panels"},"transform":[{"filter":"datum.p==5"}],"mark":{"type":"rule","color":"#2020ff","strokeDash":[5,11],"strokeDashOffset":8,"strokeWidth":1.3},"encoding":{"y":{"datum":0.4,"type":"quantitative","scale":{"domain":[0,0.8]},"axis":null}}},
{"transform":[{"filter":"datum.p==5 && isValid(datum.m)"}],"mark":{"type":"line","color":"#800080","strokeWidth":2,"clip":true},"encoding":{"x":{"field":"t","type":"quantitative","scale":{"domain":[0,9.95],"nice":false,"zero":false},"axis":null},"y":{"field":"m","type":"quantitative","scale":{"domain":[0,0.8],"nice":false},"axis":{"orient":"left","title":null,"labels":false,"domain":false,"values":[0.1,0.2,0.3,0.5,0.6,0.7]}}}},
{"transform":[{"filter":"datum.p==5 && isValid(datum.b)"}],"mark":{"type":"line","color":"#0000cd","strokeWidth":3.2,"strokeDash":[11,5],"clip":true},"encoding":{"x":{"field":"t","type":"quantitative","scale":{"domain":[0,9.95],"nice":false,"zero":false},"axis":null},"y":{"field":"b","type":"quantitative","scale":{"domain":[0,0.8],"nice":false},"axis":null}}},
{"transform":[{"filter":"datum.p==5 && isValid(datum.g)"}],"mark":{"type":"line","color":"#708090","opacity":0.45,"strokeWidth":3.6,"clip":true},"encoding":{"x":{"field":"t","type":"quantitative","scale":{"domain":[0,9.95],"nice":false,"zero":false},"axis":null},"y":{"field":"g","type":"quantitative","scale":{"domain":[0,1.388],"nice":false},"axis":null}}},
{"data":{"name":"panels"},"transform":[{"filter":"datum.p==5"}],"mark":{"type":"text","align":"right","baseline":"middle","fontSize":16},"encoding":{"x":{"datum":9.45,"type":"quantitative","axis":null},"y":{"datum":0.734,"type":"quantitative","scale":{"domain":[0,0.8]},"axis":null},"text":{"field":"l1"}}},
{"data":{"name":"panels"},"transform":[{"filter":"datum.p==5"}],"mark":{"type":"text","align":"right","baseline":"middle","fontSize":16},"encoding":{"x":{"datum":9.45,"type":"quantitative","axis":null},"y":{"datum":0.657,"type":"quantitative","scale":{"domain":[0,0.8]},"axis":null},"text":{"field":"l2"}}}
]},
{"width":294,"height":229,"resolve":{"scale":{"y":"independent"}},"layer":[
{"data":{"name":"panels"},"transform":[{"filter":"datum.p==6"}],"mark":{"type":"rule","color":"#708090","strokeDash":[1,2.5],"strokeWidth":1},"encoding":{"y":{"datum":0.5764,"type":"quantitative","scale":{"domain":[0,0.8]},"axis":null}}},
{"data":{"name":"panels"},"transform":[{"filter":"datum.p==6"}],"mark":{"type":"rule","color":"#b000b0","strokeDash":[5,11],"strokeWidth":1.3},"encoding":{"y":{"datum":0.4,"type":"quantitative","scale":{"domain":[0,0.8]},"axis":null}}},
{"data":{"name":"panels"},"transform":[{"filter":"datum.p==6"}],"mark":{"type":"rule","color":"#2020ff","strokeDash":[5,11],"strokeDashOffset":8,"strokeWidth":1.3},"encoding":{"y":{"datum":0.4,"type":"quantitative","scale":{"domain":[0,0.8]},"axis":null}}},
{"transform":[{"filter":"datum.p==6 && isValid(datum.m)"}],"mark":{"type":"line","color":"#800080","strokeWidth":2,"clip":true},"encoding":{"x":{"field":"t","type":"quantitative","scale":{"domain":[0,9.95],"nice":false,"zero":false},"axis":null},"y":{"field":"m","type":"quantitative","scale":{"domain":[0,0.8],"nice":false},"axis":{"orient":"left","title":null,"labels":false,"domain":false,"values":[0.1,0.2,0.3,0.5,0.6,0.7]}}}},
{"transform":[{"filter":"datum.p==6 && isValid(datum.b)"}],"mark":{"type":"line","color":"#0000cd","strokeWidth":3.2,"strokeDash":[11,5],"clip":true},"encoding":{"x":{"field":"t","type":"quantitative","scale":{"domain":[0,9.95],"nice":false,"zero":false},"axis":null},"y":{"field":"b","type":"quantitative","scale":{"domain":[0,0.8],"nice":false},"axis":null}}},
{"transform":[{"filter":"datum.p==6 && isValid(datum.g)"}],"mark":{"type":"line","color":"#708090","opacity":0.45,"strokeWidth":3.6,"clip":true},"encoding":{"x":{"field":"t","type":"quantitative","scale":{"domain":[0,9.95],"nice":false,"zero":false},"axis":null},"y":{"field":"g","type":"quantitative","scale":{"domain":[0,1.388],"nice":false},"axis":null}}},
{"data":{"name":"panels"},"transform":[{"filter":"datum.p==6"}],"mark":{"type":"text","align":"right","baseline":"middle","fontSize":16},"encoding":{"x":{"datum":9.45,"type":"quantitative","axis":null},"y":{"datum":0.734,"type":"quantitative","scale":{"domain":[0,0.8]},"axis":null},"text":{"field":"l1"}}},
{"data":{"name":"panels"},"transform":[{"filter":"datum.p==6"}],"mark":{"type":"text","align":"right","baseline":"middle","fontSize":16},"encoding":{"x":{"datum":9.45,"type":"quantitative","axis":null},"y":{"datum":0.657,"type":"quantitative","scale":{"domain":[0,0.8]},"axis":null},"text":{"field":"l2"}}}
]},
{"width":294,"height":229,"resolve":{"scale":{"y":"independent"}},"layer":[
{"data":{"name":"panels"},"transform":[{"filter":"datum.p==7"}],"mark":{"type":"rule","color":"#708090","strokeDash":[1,2.5],"strokeWidth":1},"encoding":{"y":{"datum":0.5764,"type":"quantitative","scale":{"domain":[0,0.8]},"axis":null}}},
{"data":{"name":"panels"},"transform":[{"filter":"datum.p==7"}],"mark":{"type":"rule","color":"#b000b0","strokeDash":[5,11],"strokeWidth":1.3},"encoding":{"y":{"datum":0.4,"type":"quantitative","scale":{"domain":[0,0.8]},"axis":null}}},
{"data":{"name":"panels"},"transform":[{"filter":"datum.p==7"}],"mark":{"type":"rule","color":"#2020ff","strokeDash":[5,11],"strokeDashOffset":8,"strokeWidth":1.3},"encoding":{"y":{"datum":0.4,"type":"quantitative","scale":{"domain":[0,0.8]},"axis":null}}},
{"transform":[{"filter":"datum.p==7 && isValid(datum.m)"}],"mark":{"type":"line","color":"#800080","strokeWidth":2,"clip":true},"encoding":{"x":{"field":"t","type":"quantitative","scale":{"domain":[0,9.95],"nice":false,"zero":false},"axis":null},"y":{"field":"m","type":"quantitative","scale":{"domain":[0,0.8],"nice":false},"axis":{"orient":"left","title":null,"labels":false,"domain":false,"values":[0.1,0.2,0.3,0.5,0.6,0.7]}}}},
{"transform":[{"filter":"datum.p==7 && isValid(datum.b)"}],"mark":{"type":"line","color":"#0000cd","strokeWidth":3.2,"strokeDash":[11,5],"clip":true},"encoding":{"x":{"field":"t","type":"quantitative","scale":{"domain":[0,9.95],"nice":false,"zero":false},"axis":null},"y":{"field":"b","type":"quantitative","scale":{"domain":[0,0.8],"nice":false},"axis":null}}},
{"transform":[{"filter":"datum.p==7 && isValid(datum.g)"}],"mark":{"type":"line","color":"#708090","opacity":0.45,"strokeWidth":3.6,"clip":true},"encoding":{"x":{"field":"t","type":"quantitative","scale":{"domain":[0,9.95],"nice":false,"zero":false},"axis":null},"y":{"field":"g","type":"quantitative","scale":{"domain":[0,1.388],"nice":false},"axis":{"orient":"right","title":"d/r₂₀₀c","titleColor":"#8a96a3","titleFontSize":20,"titleAngle":270,"titleBaseline":"top","values":[0,0.2,0.4,0.6,0.8,1.0,1.2],"format":".1f","labelFontSize":13,"labelPadding":5,"titlePadding":6}}}},
{"data":{"name":"panels"},"transform":[{"filter":"datum.p==7"}],"mark":{"type":"text","align":"right","baseline":"middle","fontSize":16},"encoding":{"x":{"datum":9.45,"type":"quantitative","axis":null},"y":{"datum":0.734,"type":"quantitative","scale":{"domain":[0,0.8]},"axis":null},"text":{"field":"l1"}}},
{"data":{"name":"panels"},"transform":[{"filter":"datum.p==7"}],"mark":{"type":"text","align":"right","baseline":"middle","fontSize":16},"encoding":{"x":{"datum":9.45,"type":"quantitative","axis":null},"y":{"datum":0.657,"type":"quantitative","scale":{"domain":[0,0.8]},"axis":null},"text":{"field":"l2"}}}
]},
{"width":294,"height":229,"resolve":{"scale":{"y":"independent"}},"layer":[
{"data":{"name":"panels"},"transform":[{"filter":"datum.p==8"}],"mark":{"type":"rule","color":"#708090","strokeDash":[1,2.5],"strokeWidth":1},"encoding":{"y":{"datum":0.5764,"type":"quantitative","scale":{"domain":[0,0.8]},"axis":null}}},
{"data":{"name":"panels"},"transform":[{"filter":"datum.p==8"}],"mark":{"type":"rule","color":"#b000b0","strokeDash":[5,11],"strokeWidth":1.3},"encoding":{"y":{"datum":0.4,"type":"quantitative","scale":{"domain":[0,0.8]},"axis":null}}},
{"data":{"name":"panels"},"transform":[{"filter":"datum.p==8"}],"mark":{"type":"rule","color":"#2020ff","strokeDash":[5,11],"strokeDashOffset":8,"strokeWidth":1.3},"encoding":{"y":{"datum":0.4,"type":"quantitative","scale":{"domain":[0,0.8]},"axis":null}}},
{"transform":[{"filter":"datum.p==8 && isValid(datum.m)"}],"mark":{"type":"line","color":"#800080","strokeWidth":2,"clip":true},"encoding":{"x":{"field":"t","type":"quantitative","scale":{"domain":[0,9.95],"nice":false,"zero":false},"axis":null},"y":{"field":"m","type":"quantitative","scale":{"domain":[0,0.8],"nice":false},"axis":{"orient":"left","title":"fε, SUBFIND","titleColor":"#800080","titleFontSize":16,"values":[0,0.1,0.2,0.3,0.4,0.5,0.6,0.7,0.8],"format":".1f","labelFontSize":13,"labelPadding":5,"titlePadding":9}}}},
{"transform":[{"filter":"datum.p==8 && isValid(datum.b)"}],"mark":{"type":"line","color":"#0000cd","strokeWidth":3.2,"strokeDash":[11,5],"clip":true},"encoding":{"x":{"field":"t","type":"quantitative","scale":{"domain":[0,9.95],"nice":false,"zero":false},"axis":null},"y":{"field":"b","type":"quantitative","scale":{"domain":[0,0.8],"nice":false},"axis":{"orient":"left","title":"fε, ALL AT ACC.","titleColor":"#0000cd","titleFontSize":16,"labels":false,"ticks":false,"domain":false,"titlePadding":72}}}},
{"transform":[{"filter":"datum.p==8 && isValid(datum.g)"}],"mark":{"type":"line","color":"#708090","opacity":0.45,"strokeWidth":3.6,"clip":true},"encoding":{"x":{"field":"t","type":"quantitative","scale":{"domain":[0,9.95],"nice":false,"zero":false},"axis":null},"y":{"field":"g","type":"quantitative","scale":{"domain":[0,1.388],"nice":false},"axis":null}}},
{"data":{"name":"panels"},"transform":[{"filter":"datum.p==8"}],"mark":{"type":"text","align":"right","baseline":"middle","fontSize":16},"encoding":{"x":{"datum":9.45,"type":"quantitative","axis":null},"y":{"datum":0.734,"type":"quantitative","scale":{"domain":[0,0.8]},"axis":null},"text":{"field":"l1"}}},
{"data":{"name":"panels"},"transform":[{"filter":"datum.p==8"}],"mark":{"type":"text","align":"right","baseline":"middle","fontSize":16},"encoding":{"x":{"datum":9.45,"type":"quantitative","axis":null},"y":{"datum":0.657,"type":"quantitative","scale":{"domain":[0,0.8]},"axis":null},"text":{"field":"l2"}}}
]},
{"width":294,"height":229,"resolve":{"scale":{"y":"independent"}},"layer":[
{"data":{"name":"panels"},"transform":[{"filter":"datum.p==9"}],"mark":{"type":"rule","color":"#708090","strokeDash":[1,2.5],"strokeWidth":1},"encoding":{"y":{"datum":0.5764,"type":"quantitative","scale":{"domain":[0,0.8]},"axis":null}}},
{"data":{"name":"panels"},"transform":[{"filter":"datum.p==9"}],"mark":{"type":"rule","color":"#b000b0","strokeDash":[5,11],"strokeWidth":1.3},"encoding":{"y":{"datum":0.4,"type":"quantitative","scale":{"domain":[0,0.8]},"axis":null}}},
{"data":{"name":"panels"},"transform":[{"filter":"datum.p==9"}],"mark":{"type":"rule","color":"#2020ff","strokeDash":[5,11],"strokeDashOffset":8,"strokeWidth":1.3},"encoding":{"y":{"datum":0.4,"type":"quantitative","scale":{"domain":[0,0.8]},"axis":null}}},
{"transform":[{"filter":"datum.p==9 && isValid(datum.m)"}],"mark":{"type":"line","color":"#800080","strokeWidth":2,"clip":true},"encoding":{"x":{"field":"t","type":"quantitative","scale":{"domain":[0,9.95],"nice":false,"zero":false},"axis":null},"y":{"field":"m","type":"quantitative","scale":{"domain":[0,0.8],"nice":false},"axis":{"orient":"left","title":null,"labels":false,"domain":false,"values":[0.1,0.2,0.3,0.5,0.6,0.7]}}}},
{"transform":[{"filter":"datum.p==9 && isValid(datum.b)"}],"mark":{"type":"line","color":"#0000cd","strokeWidth":3.2,"strokeDash":[11,5],"clip":true},"encoding":{"x":{"field":"t","type":"quantitative","scale":{"domain":[0,9.95],"nice":false,"zero":false},"axis":null},"y":{"field":"b","type":"quantitative","scale":{"domain":[0,0.8],"nice":false},"axis":null}}},
{"transform":[{"filter":"datum.p==9 && isValid(datum.g)"}],"mark":{"type":"line","color":"#708090","opacity":0.45,"strokeWidth":3.6,"clip":true},"encoding":{"x":{"field":"t","type":"quantitative","scale":{"domain":[0,9.95],"nice":false,"zero":false},"axis":null},"y":{"field":"g","type":"quantitative","scale":{"domain":[0,1.388],"nice":false},"axis":null}}},
{"data":{"name":"panels"},"transform":[{"filter":"datum.p==9"}],"mark":{"type":"text","align":"right","baseline":"middle","fontSize":16},"encoding":{"x":{"datum":9.45,"type":"quantitative","axis":null},"y":{"datum":0.734,"type":"quantitative","scale":{"domain":[0,0.8]},"axis":null},"text":{"field":"l1"}}},
{"data":{"name":"panels"},"transform":[{"filter":"datum.p==9"}],"mark":{"type":"text","align":"right","baseline":"middle","fontSize":16},"encoding":{"x":{"datum":9.45,"type":"quantitative","axis":null},"y":{"datum":0.657,"type":"quantitative","scale":{"domain":[0,0.8]},"axis":null},"text":{"field":"l2"}}}
]},
{"width":294,"height":229,"resolve":{"scale":{"y":"independent"}},"layer":[
{"data":{"name":"panels"},"transform":[{"filter":"datum.p==10"}],"mark":{"type":"rule","color":"#708090","strokeDash":[1,2.5],"strokeWidth":1},"encoding":{"y":{"datum":0.5764,"type":"quantitative","scale":{"domain":[0,0.8]},"axis":null}}},
{"data":{"name":"panels"},"transform":[{"filter":"datum.p==10"}],"mark":{"type":"rule","color":"#b000b0","strokeDash":[5,11],"strokeWidth":1.3},"encoding":{"y":{"datum":0.4,"type":"quantitative","scale":{"domain":[0,0.8]},"axis":null}}},
{"data":{"name":"panels"},"transform":[{"filter":"datum.p==10"}],"mark":{"type":"rule","color":"#2020ff","strokeDash":[5,11],"strokeDashOffset":8,"strokeWidth":1.3},"encoding":{"y":{"datum":0.4,"type":"quantitative","scale":{"domain":[0,0.8]},"axis":null}}},
{"transform":[{"filter":"datum.p==10 && isValid(datum.m)"}],"mark":{"type":"line","color":"#800080","strokeWidth":2,"clip":true},"encoding":{"x":{"field":"t","type":"quantitative","scale":{"domain":[0,9.95],"nice":false,"zero":false},"axis":null},"y":{"field":"m","type":"quantitative","scale":{"domain":[0,0.8],"nice":false},"axis":{"orient":"left","title":null,"labels":false,"domain":false,"values":[0.1,0.2,0.3,0.5,0.6,0.7]}}}},
{"transform":[{"filter":"datum.p==10 && isValid(datum.b)"}],"mark":{"type":"line","color":"#0000cd","strokeWidth":3.2,"strokeDash":[11,5],"clip":true},"encoding":{"x":{"field":"t","type":"quantitative","scale":{"domain":[0,9.95],"nice":false,"zero":false},"axis":null},"y":{"field":"b","type":"quantitative","scale":{"domain":[0,0.8],"nice":false},"axis":null}}},
{"transform":[{"filter":"datum.p==10 && isValid(datum.g)"}],"mark":{"type":"line","color":"#708090","opacity":0.45,"strokeWidth":3.6,"clip":true},"encoding":{"x":{"field":"t","type":"quantitative","scale":{"domain":[0,9.95],"nice":false,"zero":false},"axis":null},"y":{"field":"g","type":"quantitative","scale":{"domain":[0,1.388],"nice":false},"axis":null}}},
{"data":{"name":"panels"},"transform":[{"filter":"datum.p==10"}],"mark":{"type":"text","align":"right","baseline":"middle","fontSize":16},"encoding":{"x":{"datum":9.45,"type":"quantitative","axis":null},"y":{"datum":0.734,"type":"quantitative","scale":{"domain":[0,0.8]},"axis":null},"text":{"field":"l1"}}},
{"data":{"name":"panels"},"transform":[{"filter":"datum.p==10"}],"mark":{"type":"text","align":"right","baseline":"middle","fontSize":16},"encoding":{"x":{"datum":9.45,"type":"quantitative","axis":null},"y":{"datum":0.657,"type":"quantitative","scale":{"domain":[0,0.8]},"axis":null},"text":{"field":"l2"}}}
]},
{"width":294,"height":229,"resolve":{"scale":{"y":"independent"}},"layer":[
{"data":{"name":"panels"},"transform":[{"filter":"datum.p==11"}],"mark":{"type":"rule","color":"#708090","strokeDash":[1,2.5],"strokeWidth":1},"encoding":{"y":{"datum":0.5764,"type":"quantitative","scale":{"domain":[0,0.8]},"axis":null}}},
{"data":{"name":"panels"},"transform":[{"filter":"datum.p==11"}],"mark":{"type":"rule","color":"#b000b0","strokeDash":[5,11],"strokeWidth":1.3},"encoding":{"y":{"datum":0.4,"type":"quantitative","scale":{"domain":[0,0.8]},"axis":null}}},
{"data":{"name":"panels"},"transform":[{"filter":"datum.p==11"}],"mark":{"type":"rule","color":"#2020ff","strokeDash":[5,11],"strokeDashOffset":8,"strokeWidth":1.3},"encoding":{"y":{"datum":0.4,"type":"quantitative","scale":{"domain":[0,0.8]},"axis":null}}},
{"transform":[{"filter":"datum.p==11 && isValid(datum.m)"}],"mark":{"type":"line","color":"#800080","strokeWidth":2,"clip":true},"encoding":{"x":{"field":"t","type":"quantitative","scale":{"domain":[0,9.95],"nice":false,"zero":false},"axis":null},"y":{"field":"m","type":"quantitative","scale":{"domain":[0,0.8],"nice":false},"axis":{"orient":"left","title":null,"labels":false,"domain":false,"values":[0.1,0.2,0.3,0.5,0.6,0.7]}}}},
{"transform":[{"filter":"datum.p==11 && isValid(datum.b)"}],"mark":{"type":"line","color":"#0000cd","strokeWidth":3.2,"strokeDash":[11,5],"clip":true},"encoding":{"x":{"field":"t","type":"quantitative","scale":{"domain":[0,9.95],"nice":false,"zero":false},"axis":null},"y":{"field":"b","type":"quantitative","scale":{"domain":[0,0.8],"nice":false},"axis":null}}},
{"transform":[{"filter":"datum.p==11 && isValid(datum.g)"}],"mark":{"type":"line","color":"#708090","opacity":0.45,"strokeWidth":3.6,"clip":true},"encoding":{"x":{"field":"t","type":"quantitative","scale":{"domain":[0,9.95],"nice":false,"zero":false},"axis":null},"y":{"field":"g","type":"quantitative","scale":{"domain":[0,1.388],"nice":false},"axis":{"orient":"right","title":"d/r₂₀₀c","titleColor":"#8a96a3","titleFontSize":20,"titleAngle":270,"titleBaseline":"top","values":[0,0.2,0.4,0.6,0.8,1.0,1.2],"format":".1f","labelFontSize":13,"labelPadding":5,"titlePadding":6}}}},
{"data":{"name":"panels"},"transform":[{"filter":"datum.p==11"}],"mark":{"type":"text","align":"right","baseline":"middle","fontSize":16},"encoding":{"x":{"datum":9.45,"type":"quantitative","axis":null},"y":{"datum":0.734,"type":"quantitative","scale":{"domain":[0,0.8]},"axis":null},"text":{"field":"l1"}}},
{"data":{"name":"panels"},"transform":[{"filter":"datum.p==11"}],"mark":{"type":"text","align":"right","baseline":"middle","fontSize":16},"encoding":{"x":{"datum":9.45,"type":"quantitative","axis":null},"y":{"datum":0.657,"type":"quantitative","scale":{"domain":[0,0.8]},"axis":null},"text":{"field":"l2"}}}
]},
{"width":294,"height":229,"resolve":{"scale":{"y":"independent"}},"layer":[
{"data":{"name":"panels"},"transform":[{"filter":"datum.p==12"}],"mark":{"type":"rule","color":"#708090","strokeDash":[1,2.5],"strokeWidth":1},"encoding":{"y":{"datum":0.5764,"type":"quantitative","scale":{"domain":[0,0.8]},"axis":null}}},
{"data":{"name":"panels"},"transform":[{"filter":"datum.p==12"}],"mark":{"type":"rule","color":"#b000b0","strokeDash":[5,11],"strokeWidth":1.3},"encoding":{"y":{"datum":0.4,"type":"quantitative","scale":{"domain":[0,0.8]},"axis":null}}},
{"data":{"name":"panels"},"transform":[{"filter":"datum.p==12"}],"mark":{"type":"rule","color":"#2020ff","strokeDash":[5,11],"strokeDashOffset":8,"strokeWidth":1.3},"encoding":{"y":{"datum":0.4,"type":"quantitative","scale":{"domain":[0,0.8]},"axis":null}}},
{"transform":[{"filter":"datum.p==12 && isValid(datum.m)"}],"mark":{"type":"line","color":"#800080","strokeWidth":2,"clip":true},"encoding":{"x":{"field":"t","type":"quantitative","scale":{"domain":[0,9.95],"nice":false,"zero":false},"axis":null},"y":{"field":"m","type":"quantitative","scale":{"domain":[0,0.8],"nice":false},"axis":{"orient":"left","title":"fε, SUBFIND","titleColor":"#800080","titleFontSize":16,"values":[0,0.1,0.2,0.3,0.4,0.5,0.6,0.7,0.8],"format":".1f","labelFontSize":13,"labelPadding":5,"titlePadding":9}}}},
{"transform":[{"filter":"datum.p==12 && isValid(datum.b)"}],"mark":{"type":"line","color":"#0000cd","strokeWidth":3.2,"strokeDash":[11,5],"clip":true},"encoding":{"x":{"field":"t","type":"quantitative","scale":{"domain":[0,9.95],"nice":false,"zero":false},"axis":null},"y":{"field":"b","type":"quantitative","scale":{"domain":[0,0.8],"nice":false},"axis":{"orient":"left","title":"fε, ALL AT ACC.","titleColor":"#0000cd","titleFontSize":16,"labels":false,"ticks":false,"domain":false,"titlePadding":72}}}},
{"transform":[{"filter":"datum.p==12 && isValid(datum.g)"}],"mark":{"type":"line","color":"#708090","opacity":0.45,"strokeWidth":3.6,"clip":true},"encoding":{"x":{"field":"t","type":"quantitative","scale":{"domain":[0,9.95],"nice":false,"zero":false},"axis":null},"y":{"field":"g","type":"quantitative","scale":{"domain":[0,1.388],"nice":false},"axis":null}}},
{"data":{"name":"panels"},"transform":[{"filter":"datum.p==12"}],"mark":{"type":"text","align":"right","baseline":"middle","fontSize":16},"encoding":{"x":{"datum":9.45,"type":"quantitative","axis":null},"y":{"datum":0.734,"type":"quantitative","scale":{"domain":[0,0.8]},"axis":null},"text":{"field":"l1"}}},
{"data":{"name":"panels"},"transform":[{"filter":"datum.p==12"}],"mark":{"type":"text","align":"right","baseline":"middle","fontSize":16},"encoding":{"x":{"datum":9.45,"type":"quantitative","axis":null},"y":{"datum":0.657,"type":"quantitative","scale":{"domain":[0,0.8]},"axis":null},"text":{"field":"l2"}}}
]},
{"width":294,"height":229,"resolve":{"scale":{"y":"independent"}},"layer":[
{"data":{"name":"panels"},"transform":[{"filter":"datum.p==13"}],"mark":{"type":"rule","color":"#708090","strokeDash":[1,2.5],"strokeWidth":1},"encoding":{"y":{"datum":0.5764,"type":"quantitative","scale":{"domain":[0,0.8]},"axis":null}}},
{"data":{"name":"panels"},"transform":[{"filter":"datum.p==13"}],"mark":{"type":"rule","color":"#b000b0","strokeDash":[5,11],"strokeWidth":1.3},"encoding":{"y":{"datum":0.4,"type":"quantitative","scale":{"domain":[0,0.8]},"axis":null}}},
{"data":{"name":"panels"},"transform":[{"filter":"datum.p==13"}],"mark":{"type":"rule","color":"#2020ff","strokeDash":[5,11],"strokeDashOffset":8,"strokeWidth":1.3},"encoding":{"y":{"datum":0.4,"type":"quantitative","scale":{"domain":[0,0.8]},"axis":null}}},
{"transform":[{"filter":"datum.p==13 && isValid(datum.m)"}],"mark":{"type":"line","color":"#800080","strokeWidth":2,"clip":true},"encoding":{"x":{"field":"t","type":"quantitative","scale":{"domain":[0,9.95],"nice":false,"zero":false},"axis":null},"y":{"field":"m","type":"quantitative","scale":{"domain":[0,0.8],"nice":false},"axis":{"orient":"left","title":null,"labels":false,"domain":false,"values":[0.1,0.2,0.3,0.5,0.6,0.7]}}}},
{"transform":[{"filter":"datum.p==13 && isValid(datum.b)"}],"mark":{"type":"line","color":"#0000cd","strokeWidth":3.2,"strokeDash":[11,5],"clip":true},"encoding":{"x":{"field":"t","type":"quantitative","scale":{"domain":[0,9.95],"nice":false,"zero":false},"axis":null},"y":{"field":"b","type":"quantitative","scale":{"domain":[0,0.8],"nice":false},"axis":null}}},
{"transform":[{"filter":"datum.p==13 && isValid(datum.g)"}],"mark":{"type":"line","color":"#708090","opacity":0.45,"strokeWidth":3.6,"clip":true},"encoding":{"x":{"field":"t","type":"quantitative","scale":{"domain":[0,9.95],"nice":false,"zero":false},"axis":null},"y":{"field":"g","type":"quantitative","scale":{"domain":[0,1.388],"nice":false},"axis":null}}},
{"data":{"name":"panels"},"transform":[{"filter":"datum.p==13"}],"mark":{"type":"text","align":"right","baseline":"middle","fontSize":16},"encoding":{"x":{"datum":9.45,"type":"quantitative","axis":null},"y":{"datum":0.734,"type":"quantitative","scale":{"domain":[0,0.8]},"axis":null},"text":{"field":"l1"}}},
{"data":{"name":"panels"},"transform":[{"filter":"datum.p==13"}],"mark":{"type":"text","align":"right","baseline":"middle","fontSize":16},"encoding":{"x":{"datum":9.45,"type":"quantitative","axis":null},"y":{"datum":0.657,"type":"quantitative","scale":{"domain":[0,0.8]},"axis":null},"text":{"field":"l2"}}}
]},
{"width":294,"height":229,"resolve":{"scale":{"y":"independent"}},"layer":[
{"data":{"name":"panels"},"transform":[{"filter":"datum.p==14"}],"mark":{"type":"rule","color":"#708090","strokeDash":[1,2.5],"strokeWidth":1},"encoding":{"y":{"datum":0.5764,"type":"quantitative","scale":{"domain":[0,0.8]},"axis":null}}},
{"data":{"name":"panels"},"transform":[{"filter":"datum.p==14"}],"mark":{"type":"rule","color":"#b000b0","strokeDash":[5,11],"strokeWidth":1.3},"encoding":{"y":{"datum":0.4,"type":"quantitative","scale":{"domain":[0,0.8]},"axis":null}}},
{"data":{"name":"panels"},"transform":[{"filter":"datum.p==14"}],"mark":{"type":"rule","color":"#2020ff","strokeDash":[5,11],"strokeDashOffset":8,"strokeWidth":1.3},"encoding":{"y":{"datum":0.4,"type":"quantitative","scale":{"domain":[0,0.8]},"axis":null}}},
{"transform":[{"filter":"datum.p==14 && isValid(datum.m)"}],"mark":{"type":"line","color":"#800080","strokeWidth":2,"clip":true},"encoding":{"x":{"field":"t","type":"quantitative","scale":{"domain":[0,9.95],"nice":false,"zero":false},"axis":null},"y":{"field":"m","type":"quantitative","scale":{"domain":[0,0.8],"nice":false},"axis":{"orient":"left","title":null,"labels":false,"domain":false,"values":[0.1,0.2,0.3,0.5,0.6,0.7]}}}},
{"transform":[{"filter":"datum.p==14 && isValid(datum.b)"}],"mark":{"type":"line","color":"#0000cd","strokeWidth":3.2,"strokeDash":[11,5],"clip":true},"encoding":{"x":{"field":"t","type":"quantitative","scale":{"domain":[0,9.95],"nice":false,"zero":false},"axis":null},"y":{"field":"b","type":"quantitative","scale":{"domain":[0,0.8],"nice":false},"axis":null}}},
{"transform":[{"filter":"datum.p==14 && isValid(datum.g)"}],"mark":{"type":"line","color":"#708090","opacity":0.45,"strokeWidth":3.6,"clip":true},"encoding":{"x":{"field":"t","type":"quantitative","scale":{"domain":[0,9.95],"nice":false,"zero":false},"axis":null},"y":{"field":"g","type":"quantitative","scale":{"domain":[0,1.388],"nice":false},"axis":null}}},
{"data":{"name":"panels"},"transform":[{"filter":"datum.p==14"}],"mark":{"type":"text","align":"right","baseline":"middle","fontSize":16},"encoding":{"x":{"datum":9.45,"type":"quantitative","axis":null},"y":{"datum":0.734,"type":"quantitative","scale":{"domain":[0,0.8]},"axis":null},"text":{"field":"l1"}}},
{"data":{"name":"panels"},"transform":[{"filter":"datum.p==14"}],"mark":{"type":"text","align":"right","baseline":"middle","fontSize":16},"encoding":{"x":{"datum":9.45,"type":"quantitative","axis":null},"y":{"datum":0.657,"type":"quantitative","scale":{"domain":[0,0.8]},"axis":null},"text":{"field":"l2"}}}
]},
{"width":294,"height":229,"resolve":{"scale":{"y":"independent"}},"layer":[
{"data":{"name":"panels"},"transform":[{"filter":"datum.p==15"}],"mark":{"type":"rule","color":"#708090","strokeDash":[1,2.5],"strokeWidth":1},"encoding":{"y":{"datum":0.5764,"type":"quantitative","scale":{"domain":[0,0.8]},"axis":null}}},
{"data":{"name":"panels"},"transform":[{"filter":"datum.p==15"}],"mark":{"type":"rule","color":"#b000b0","strokeDash":[5,11],"strokeWidth":1.3},"encoding":{"y":{"datum":0.4,"type":"quantitative","scale":{"domain":[0,0.8]},"axis":null}}},
{"data":{"name":"panels"},"transform":[{"filter":"datum.p==15"}],"mark":{"type":"rule","color":"#2020ff","strokeDash":[5,11],"strokeDashOffset":8,"strokeWidth":1.3},"encoding":{"y":{"datum":0.4,"type":"quantitative","scale":{"domain":[0,0.8]},"axis":null}}},
{"transform":[{"filter":"datum.p==15 && isValid(datum.m)"}],"mark":{"type":"line","color":"#800080","strokeWidth":2,"clip":true},"encoding":{"x":{"field":"t","type":"quantitative","scale":{"domain":[0,9.95],"nice":false,"zero":false},"axis":null},"y":{"field":"m","type":"quantitative","scale":{"domain":[0,0.8],"nice":false},"axis":{"orient":"left","title":null,"labels":false,"domain":false,"values":[0.1,0.2,0.3,0.5,0.6,0.7]}}}},
{"transform":[{"filter":"datum.p==15 && isValid(datum.b)"}],"mark":{"type":"line","color":"#0000cd","strokeWidth":3.2,"strokeDash":[11,5],"clip":true},"encoding":{"x":{"field":"t","type":"quantitative","scale":{"domain":[0,9.95],"nice":false,"zero":false},"axis":null},"y":{"field":"b","type":"quantitative","scale":{"domain":[0,0.8],"nice":false},"axis":null}}},
{"transform":[{"filter":"datum.p==15 && isValid(datum.g)"}],"mark":{"type":"line","color":"#708090","opacity":0.45,"strokeWidth":3.6,"clip":true},"encoding":{"x":{"field":"t","type":"quantitative","scale":{"domain":[0,9.95],"nice":false,"zero":false},"axis":null},"y":{"field":"g","type":"quantitative","scale":{"domain":[0,1.388],"nice":false},"axis":{"orient":"right","title":"d/r₂₀₀c","titleColor":"#8a96a3","titleFontSize":20,"titleAngle":270,"titleBaseline":"top","values":[0,0.2,0.4,0.6,0.8,1.0,1.2],"format":".1f","labelFontSize":13,"labelPadding":5,"titlePadding":6}}}},
{"data":{"name":"panels"},"transform":[{"filter":"datum.p==15"}],"mark":{"type":"text","align":"right","baseline":"middle","fontSize":16},"encoding":{"x":{"datum":9.45,"type":"quantitative","axis":null},"y":{"datum":0.734,"type":"quantitative","scale":{"domain":[0,0.8]},"axis":null},"text":{"field":"l1"}}},
{"data":{"name":"panels"},"transform":[{"filter":"datum.p==15"}],"mark":{"type":"text","align":"right","baseline":"middle","fontSize":16},"encoding":{"x":{"datum":9.45,"type":"quantitative","axis":null},"y":{"datum":0.657,"type":"quantitative","scale":{"domain":[0,0.8]},"axis":null},"text":{"field":"l2"}}}
]},
{"width":294,"height":229,"resolve":{"scale":{"y":"independent"}},"layer":[
{"data":{"name":"panels"},"transform":[{"filter":"datum.p==16"}],"mark":{"type":"rule","color":"#708090","strokeDash":[1,2.5],"strokeWidth":1},"encoding":{"y":{"datum":0.5764,"type":"quantitative","scale":{"domain":[0,0.8]},"axis":null}}},
{"data":{"name":"panels"},"transform":[{"filter":"datum.p==16"}],"mark":{"type":"rule","color":"#b000b0","strokeDash":[5,11],"strokeWidth":1.3},"encoding":{"y":{"datum":0.4,"type":"quantitative","scale":{"domain":[0,0.8]},"axis":null}}},
{"data":{"name":"panels"},"transform":[{"filter":"datum.p==16"}],"mark":{"type":"rule","color":"#2020ff","strokeDash":[5,11],"strokeDashOffset":8,"strokeWidth":1.3},"encoding":{"y":{"datum":0.4,"type":"quantitative","scale":{"domain":[0,0.8]},"axis":null}}},
{"transform":[{"filter":"datum.p==16 && isValid(datum.m)"}],"mark":{"type":"line","color":"#800080","strokeWidth":2,"clip":true},"encoding":{"x":{"field":"t","type":"quantitative","scale":{"domain":[0,9.95],"nice":false,"zero":false},"axis":{"title":"t − t_acc [Gyr]","values":[0,2,4,6,8],"format":"d","titleFontSize":24,"labelFontSize":13,"titlePadding":4}},"y":{"field":"m","type":"quantitative","scale":{"domain":[0,0.8],"nice":false},"axis":{"orient":"left","title":"fε, SUBFIND","titleColor":"#800080","titleFontSize":16,"values":[0,0.1,0.2,0.3,0.4,0.5,0.6,0.7,0.8],"format":".1f","labelFontSize":13,"labelPadding":5,"titlePadding":9}}}},
{"transform":[{"filter":"datum.p==16 && isValid(datum.b)"}],"mark":{"type":"line","color":"#0000cd","strokeWidth":3.2,"strokeDash":[11,5],"clip":true},"encoding":{"x":{"field":"t","type":"quantitative","scale":{"domain":[0,9.95],"nice":false,"zero":false},"axis":{"title":"t − t_acc [Gyr]","values":[0,2,4,6,8],"format":"d","titleFontSize":24,"labelFontSize":13,"titlePadding":4}},"y":{"field":"b","type":"quantitative","scale":{"domain":[0,0.8],"nice":false},"axis":{"orient":"left","title":"fε, ALL AT ACC.","titleColor":"#0000cd","titleFontSize":16,"labels":false,"ticks":false,"domain":false,"titlePadding":72}}}},
{"transform":[{"filter":"datum.p==16 && isValid(datum.g)"}],"mark":{"type":"line","color":"#708090","opacity":0.45,"strokeWidth":3.6,"clip":true},"encoding":{"x":{"field":"t","type":"quantitative","scale":{"domain":[0,9.95],"nice":false,"zero":false},"axis":{"title":"t − t_acc [Gyr]","values":[0,2,4,6,8],"format":"d","titleFontSize":24,"labelFontSize":13,"titlePadding":4}},"y":{"field":"g","type":"quantitative","scale":{"domain":[0,1.388],"nice":false},"axis":null}}},
{"data":{"name":"panels"},"transform":[{"filter":"datum.p==16"}],"mark":{"type":"text","align":"right","baseline":"middle","fontSize":16},"encoding":{"x":{"datum":9.45,"type":"quantitative","axis":{"title":"t − t_acc [Gyr]","values":[0,2,4,6,8],"format":"d","titleFontSize":24,"labelFontSize":13,"titlePadding":4}},"y":{"datum":0.734,"type":"quantitative","scale":{"domain":[0,0.8]},"axis":null},"text":{"field":"l1"}}},
{"data":{"name":"panels"},"transform":[{"filter":"datum.p==16"}],"mark":{"type":"text","align":"right","baseline":"middle","fontSize":16},"encoding":{"x":{"datum":9.45,"type":"quantitative","axis":{"title":"t − t_acc [Gyr]","values":[0,2,4,6,8],"format":"d","titleFontSize":24,"labelFontSize":13,"titlePadding":4}},"y":{"datum":0.657,"type":"quantitative","scale":{"domain":[0,0.8]},"axis":null},"text":{"field":"l2"}}}
]},
{"width":294,"height":229,"resolve":{"scale":{"y":"independent"}},"layer":[
{"data":{"name":"panels"},"transform":[{"filter":"datum.p==17"}],"mark":{"type":"rule","color":"#708090","strokeDash":[1,2.5],"strokeWidth":1},"encoding":{"y":{"datum":0.5764,"type":"quantitative","scale":{"domain":[0,0.8]},"axis":null}}},
{"data":{"name":"panels"},"transform":[{"filter":"datum.p==17"}],"mark":{"type":"rule","color":"#b000b0","strokeDash":[5,11],"strokeWidth":1.3},"encoding":{"y":{"datum":0.4,"type":"quantitative","scale":{"domain":[0,0.8]},"axis":null}}},
{"data":{"name":"panels"},"transform":[{"filter":"datum.p==17"}],"mark":{"type":"rule","color":"#2020ff","strokeDash":[5,11],"strokeDashOffset":8,"strokeWidth":1.3},"encoding":{"y":{"datum":0.4,"type":"quantitative","scale":{"domain":[0,0.8]},"axis":null}}},
{"transform":[{"filter":"datum.p==17 && isValid(datum.m)"}],"mark":{"type":"line","color":"#800080","strokeWidth":2,"clip":true},"encoding":{"x":{"field":"t","type":"quantitative","scale":{"domain":[0,9.95],"nice":false,"zero":false},"axis":{"title":"t − t_acc [Gyr]","values":[0,2,4,6,8],"format":"d","titleFontSize":24,"labelFontSize":13,"titlePadding":4}},"y":{"field":"m","type":"quantitative","scale":{"domain":[0,0.8],"nice":false},"axis":{"orient":"left","title":null,"labels":false,"domain":false,"values":[0.1,0.2,0.3,0.5,0.6,0.7]}}}},
{"transform":[{"filter":"datum.p==17 && isValid(datum.b)"}],"mark":{"type":"line","color":"#0000cd","strokeWidth":3.2,"strokeDash":[11,5],"clip":true},"encoding":{"x":{"field":"t","type":"quantitative","scale":{"domain":[0,9.95],"nice":false,"zero":false},"axis":{"title":"t − t_acc [Gyr]","values":[0,2,4,6,8],"format":"d","titleFontSize":24,"labelFontSize":13,"titlePadding":4}},"y":{"field":"b","type":"quantitative","scale":{"domain":[0,0.8],"nice":false},"axis":null}}},
{"transform":[{"filter":"datum.p==17 && isValid(datum.g)"}],"mark":{"type":"line","color":"#708090","opacity":0.45,"strokeWidth":3.6,"clip":true},"encoding":{"x":{"field":"t","type":"quantitative","scale":{"domain":[0,9.95],"nice":false,"zero":false},"axis":{"title":"t − t_acc [Gyr]","values":[0,2,4,6,8],"format":"d","titleFontSize":24,"labelFontSize":13,"titlePadding":4}},"y":{"field":"g","type":"quantitative","scale":{"domain":[0,1.388],"nice":false},"axis":null}}},
{"data":{"name":"panels"},"transform":[{"filter":"datum.p==17"}],"mark":{"type":"text","align":"right","baseline":"middle","fontSize":16},"encoding":{"x":{"datum":9.45,"type":"quantitative","axis":{"title":"t − t_acc [Gyr]","values":[0,2,4,6,8],"format":"d","titleFontSize":24,"labelFontSize":13,"titlePadding":4}},"y":{"datum":0.734,"type":"quantitative","scale":{"domain":[0,0.8]},"axis":null},"text":{"field":"l1"}}},
{"data":{"name":"panels"},"transform":[{"filter":"datum.p==17"}],"mark":{"type":"text","align":"right","baseline":"middle","fontSize":16},"encoding":{"x":{"datum":9.45,"type":"quantitative","axis":{"title":"t − t_acc [Gyr]","values":[0,2,4,6,8],"format":"d","titleFontSize":24,"labelFontSize":13,"titlePadding":4}},"y":{"datum":0.657,"type":"quantitative","scale":{"domain":[0,0.8]},"axis":null},"text":{"field":"l2"}}}
]},
{"width":294,"height":229,"resolve":{"scale":{"y":"independent"}},"layer":[
{"data":{"name":"panels"},"transform":[{"filter":"datum.p==18"}],"mark":{"type":"rule","color":"#708090","strokeDash":[1,2.5],"strokeWidth":1},"encoding":{"y":{"datum":0.5764,"type":"quantitative","scale":{"domain":[0,0.8]},"axis":null}}},
{"data":{"name":"panels"},"transform":[{"filter":"datum.p==18"}],"mark":{"type":"rule","color":"#b000b0","strokeDash":[5,11],"strokeWidth":1.3},"encoding":{"y":{"datum":0.4,"type":"quantitative","scale":{"domain":[0,0.8]},"axis":null}}},
{"data":{"name":"panels"},"transform":[{"filter":"datum.p==18"}],"mark":{"type":"rule","color":"#2020ff","strokeDash":[5,11],"strokeDashOffset":8,"strokeWidth":1.3},"encoding":{"y":{"datum":0.4,"type":"quantitative","scale":{"domain":[0,0.8]},"axis":null}}},
{"transform":[{"filter":"datum.p==18 && isValid(datum.m)"}],"mark":{"type":"line","color":"#800080","strokeWidth":2,"clip":true},"encoding":{"x":{"field":"t","type":"quantitative","scale":{"domain":[0,9.95],"nice":false,"zero":false},"axis":{"title":"t − t_acc [Gyr]","values":[0,2,4,6,8],"format":"d","titleFontSize":24,"labelFontSize":13,"titlePadding":4}},"y":{"field":"m","type":"quantitative","scale":{"domain":[0,0.8],"nice":false},"axis":{"orient":"left","title":null,"labels":false,"domain":false,"values":[0.1,0.2,0.3,0.5,0.6,0.7]}}}},
{"transform":[{"filter":"datum.p==18 && isValid(datum.b)"}],"mark":{"type":"line","color":"#0000cd","strokeWidth":3.2,"strokeDash":[11,5],"clip":true},"encoding":{"x":{"field":"t","type":"quantitative","scale":{"domain":[0,9.95],"nice":false,"zero":false},"axis":{"title":"t − t_acc [Gyr]","values":[0,2,4,6,8],"format":"d","titleFontSize":24,"labelFontSize":13,"titlePadding":4}},"y":{"field":"b","type":"quantitative","scale":{"domain":[0,0.8],"nice":false},"axis":null}}},
{"transform":[{"filter":"datum.p==18 && isValid(datum.g)"}],"mark":{"type":"line","color":"#708090","opacity":0.45,"strokeWidth":3.6,"clip":true},"encoding":{"x":{"field":"t","type":"quantitative","scale":{"domain":[0,9.95],"nice":false,"zero":false},"axis":{"title":"t − t_acc [Gyr]","values":[0,2,4,6,8],"format":"d","titleFontSize":24,"labelFontSize":13,"titlePadding":4}},"y":{"field":"g","type":"quantitative","scale":{"domain":[0,1.388],"nice":false},"axis":null}}},
{"data":{"name":"panels"},"transform":[{"filter":"datum.p==18"}],"mark":{"type":"text","align":"right","baseline":"middle","fontSize":16},"encoding":{"x":{"datum":9.45,"type":"quantitative","axis":{"title":"t − t_acc [Gyr]","values":[0,2,4,6,8],"format":"d","titleFontSize":24,"labelFontSize":13,"titlePadding":4}},"y":{"datum":0.734,"type":"quantitative","scale":{"domain":[0,0.8]},"axis":null},"text":{"field":"l1"}}},
{"data":{"name":"panels"},"transform":[{"filter":"datum.p==18"}],"mark":{"type":"text","align":"right","baseline":"middle","fontSize":16},"encoding":{"x":{"datum":9.45,"type":"quantitative","axis":{"title":"t − t_acc [Gyr]","values":[0,2,4,6,8],"format":"d","titleFontSize":24,"labelFontSize":13,"titlePadding":4}},"y":{"datum":0.657,"type":"quantitative","scale":{"domain":[0,0.8]},"axis":null},"text":{"field":"l2"}}}
]},
{"width":294,"height":229,"resolve":{"scale":{"y":"independent"}},"layer":[
{"data":{"name":"panels"},"transform":[{"filter":"datum.p==19"}],"mark":{"type":"rule","color":"#708090","strokeDash":[1,2.5],"strokeWidth":1},"encoding":{"y":{"datum":0.5764,"type":"quantitative","scale":{"domain":[0,0.8]},"axis":null}}},
{"data":{"name":"panels"},"transform":[{"filter":"datum.p==19"}],"mark":{"type":"rule","color":"#b000b0","strokeDash":[5,11],"strokeWidth":1.3},"encoding":{"y":{"datum":0.4,"type":"quantitative","scale":{"domain":[0,0.8]},"axis":null}}},
{"data":{"name":"panels"},"transform":[{"filter":"datum.p==19"}],"mark":{"type":"rule","color":"#2020ff","strokeDash":[5,11],"strokeDashOffset":8,"strokeWidth":1.3},"encoding":{"y":{"datum":0.4,"type":"quantitative","scale":{"domain":[0,0.8]},"axis":null}}},
{"transform":[{"filter":"datum.p==19 && isValid(datum.m)"}],"mark":{"type":"line","color":"#800080","strokeWidth":2,"clip":true},"encoding":{"x":{"field":"t","type":"quantitative","scale":{"domain":[0,9.95],"nice":false,"zero":false},"axis":{"title":"t − t_acc [Gyr]","values":[0,2,4,6,8],"format":"d","titleFontSize":24,"labelFontSize":13,"titlePadding":4}},"y":{"field":"m","type":"quantitative","scale":{"domain":[0,0.8],"nice":false},"axis":{"orient":"left","title":null,"labels":false,"domain":false,"values":[0.1,0.2,0.3,0.5,0.6,0.7]}}}},
{"transform":[{"filter":"datum.p==19 && isValid(datum.b)"}],"mark":{"type":"line","color":"#0000cd","strokeWidth":3.2,"strokeDash":[11,5],"clip":true},"encoding":{"x":{"field":"t","type":"quantitative","scale":{"domain":[0,9.95],"nice":false,"zero":false},"axis":{"title":"t − t_acc [Gyr]","values":[0,2,4,6,8],"format":"d","titleFontSize":24,"labelFontSize":13,"titlePadding":4}},"y":{"field":"b","type":"quantitative","scale":{"domain":[0,0.8],"nice":false},"axis":null}}},
{"transform":[{"filter":"datum.p==19 && isValid(datum.g)"}],"mark":{"type":"line","color":"#708090","opacity":0.45,"strokeWidth":3.6,"clip":true},"encoding":{"x":{"field":"t","type":"quantitative","scale":{"domain":[0,9.95],"nice":false,"zero":false},"axis":{"title":"t − t_acc [Gyr]","values":[0,2,4,6,8],"format":"d","titleFontSize":24,"labelFontSize":13,"titlePadding":4}},"y":{"field":"g","type":"quantitative","scale":{"domain":[0,1.388],"nice":false},"axis":{"orient":"right","title":"d/r₂₀₀c","titleColor":"#8a96a3","titleFontSize":20,"titleAngle":270,"titleBaseline":"top","values":[0,0.2,0.4,0.6,0.8,1.0,1.2],"format":".1f","labelFontSize":13,"labelPadding":5,"titlePadding":6}}}},
{"data":{"name":"panels"},"transform":[{"filter":"datum.p==19"}],"mark":{"type":"text","align":"right","baseline":"middle","fontSize":16},"encoding":{"x":{"datum":9.45,"type":"quantitative","axis":{"title":"t − t_acc [Gyr]","values":[0,2,4,6,8],"format":"d","titleFontSize":24,"labelFontSize":13,"titlePadding":4}},"y":{"datum":0.734,"type":"quantitative","scale":{"domain":[0,0.8]},"axis":null},"text":{"field":"l1"}}},
{"data":{"name":"panels"},"transform":[{"filter":"datum.p==19"}],"mark":{"type":"text","align":"right","baseline":"middle","fontSize":16},"encoding":{"x":{"datum":9.45,"type":"quantitative","axis":{"title":"t − t_acc [Gyr]","values":[0,2,4,6,8],"format":"d","titleFontSize":24,"labelFontSize":13,"titlePadding":4}},"y":{"datum":0.657,"type":"quantitative","scale":{"domain":[0,0.8]},"axis":null},"text":{"field":"l2"}}}
]}
],
"config": {
"font": "DejaVu Sans",
"view": {"stroke": "black", "strokeWidth": 1.5},
"text": {"color": "black"},
"axis": {"grid": false, "domainColor": "black", "domainWidth": 1.5, "tickColor": "black", "tickWidth": 1.2, "tickSize": 5, "labelColor": "black", "titleFontWeight": "normal", "titleColor": "black"}
}
}
